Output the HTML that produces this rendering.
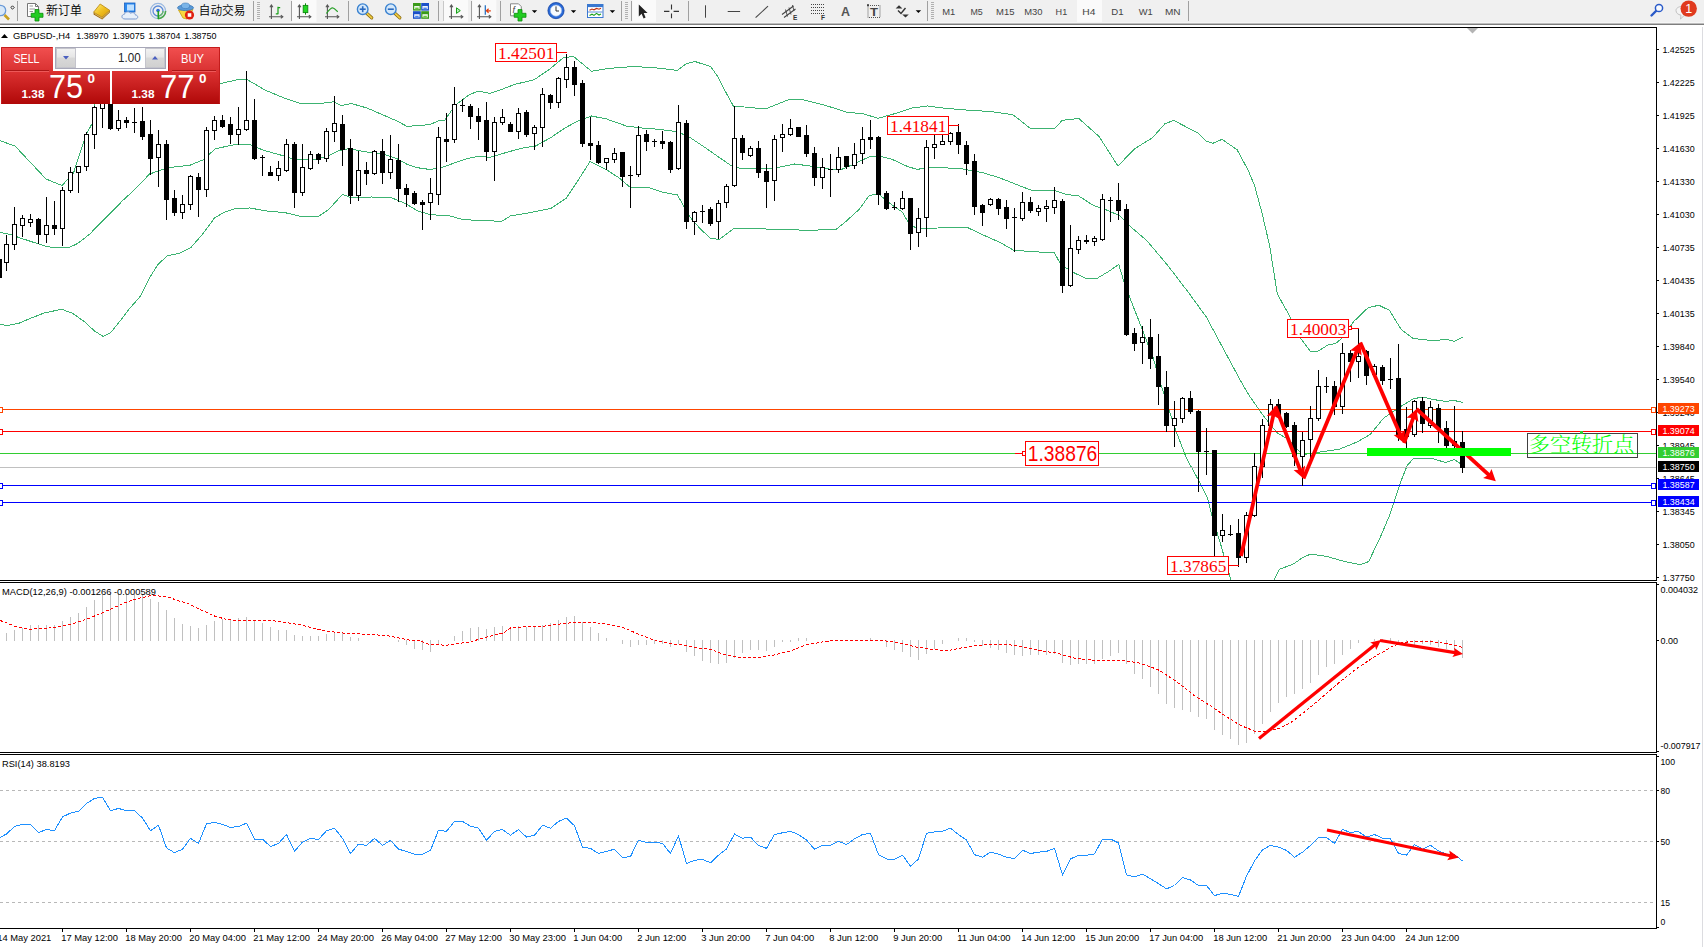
<!DOCTYPE html><html><head><meta charset="utf-8"><title>GBPUSD H4</title>
<style>html,body{margin:0;padding:0;background:#fff;}body{width:1704px;height:947px;overflow:hidden;position:relative;font-family:"Liberation Sans","Noto Sans CJK SC",sans-serif;}
svg{position:absolute;left:0;top:0;}svg text{font-family:"Liberation Sans","Noto Sans CJK SC",sans-serif;}
</style></head><body>
<svg width="1704" height="947" viewBox="0 0 1704 947">
<defs>
<linearGradient id="gs1" x1="0" y1="0" x2="0" y2="1"><stop offset="0" stop-color="#f25050"/><stop offset="1" stop-color="#d83030"/></linearGradient>
<linearGradient id="gs2" x1="0" y1="0" x2="0" y2="1"><stop offset="0" stop-color="#dc3232"/><stop offset="1" stop-color="#b00808"/></linearGradient>
<linearGradient id="gbtn" x1="0" y1="0" x2="0" y2="1"><stop offset="0" stop-color="#f2f2f2"/><stop offset="0.45" stop-color="#e6e6e6"/><stop offset="0.5" stop-color="#d8d8d8"/><stop offset="1" stop-color="#d0d0d0"/></linearGradient>
<clipPath id="cm"><rect x="0" y="28" width="1656" height="552"/></clipPath>
<clipPath id="cmacd"><rect x="0" y="583" width="1656" height="169"/></clipPath>
<clipPath id="crsi"><rect x="0" y="755" width="1656" height="173"/></clipPath>
</defs>
<rect x="0" y="0" width="1704" height="947" fill="#fff"/>
<g clip-path="url(#cm)" shape-rendering="crispEdges">
<polyline points="-2.0,140.0 15.0,146.0 46.0,179.0 62.0,185.5 73.5,173.0 86.0,135.0 94.0,120.0 94.0,100.0 110.0,90.0 140.0,80.0 180.0,84.0 222.0,83.3 240.0,79.0 246.0,79.0 265.0,90.0 284.0,98.0 302.0,104.0 319.0,103.6 334.0,101.8 341.0,105.6 351.5,103.6 367.0,108.0 382.0,114.5 397.0,121.0 407.0,126.4 430.0,124.6 438.0,121.0 445.0,120.0 455.0,105.6 468.0,95.5 478.0,91.0 490.0,93.5 502.7,89.0 515.0,84.3 534.0,79.8 548.0,70.4 563.5,57.7 573.6,56.5 591.4,71.2 609.0,68.4 632.0,66.6 652.0,67.4 677.5,70.4 686.4,63.6 695.0,61.5 710.5,66.6 718.0,76.7 725.7,92.0 733.3,106.0 750.0,107.5 765.3,109.0 789.4,99.3 803.4,99.8 826.0,105.6 846.4,112.0 864.0,114.0 878.0,118.3 892.0,114.5 912.3,108.0 927.5,106.0 942.7,108.0 968.0,110.2 990.0,111.5 1012.8,114.6 1030.5,128.5 1054.6,128.5 1062.2,120.4 1078.7,118.4 1099.0,136.4 1118.0,166.0 1134.5,148.8 1152.2,138.0 1165.0,123.7 1173.7,120.4 1197.8,133.0 1206.7,141.4 1213.0,143.2 1222.0,139.4 1237.0,149.6 1248.0,170.0 1254.4,185.0 1262.0,213.0 1269.7,246.0 1277.3,294.0 1287.4,312.0 1300.0,337.3 1310.2,351.2 1317.8,351.2 1328.0,345.0 1335.5,343.6 1343.2,337.3 1353.3,322.0 1363.4,312.0 1368.7,307.4 1379.0,305.3 1389.4,310.3 1401.3,329.6 1413.0,338.4 1433.8,340.8 1445.6,339.3 1454.5,341.4 1463.0,337.0" fill="none" stroke="#3cb371" stroke-width="1" />
<polyline points="-2.0,232.0 10.0,234.3 20.3,238.0 33.8,242.4 45.6,246.3 52.4,247.4 69.3,247.4 77.7,243.5 89.5,234.3 106.4,217.0 123.3,200.0 133.4,190.8 149.6,174.0 167.3,167.8 190.0,165.2 202.8,160.0 215.5,148.7 233.0,145.0 250.0,144.5 262.8,150.0 280.5,155.0 294.5,159.3 311.0,160.0 326.2,156.8 338.8,150.7 349.0,148.7 364.2,151.7 384.4,154.3 397.0,158.8 407.3,164.4 417.4,167.7 430.0,169.5 442.7,167.2 455.4,162.6 468.0,158.3 478.2,156.5 490.0,157.3 505.2,152.8 520.4,148.5 535.6,146.0 550.8,137.6 566.0,127.4 578.7,120.6 591.4,116.0 606.6,119.0 626.8,126.2 642.0,128.0 657.3,129.2 677.5,131.7 690.2,137.6 705.4,147.7 718.0,156.6 730.8,165.4 741.0,168.7 750.0,168.6 765.3,169.0 776.7,167.7 794.5,164.0 813.5,166.4 828.7,169.0 841.4,169.5 854.0,164.0 869.2,156.8 878.0,155.8 892.0,159.3 907.3,166.4 917.4,169.5 927.5,167.2 942.7,167.7 963.0,169.0 983.3,172.8 1000.0,178.0 1030.5,190.0 1054.6,190.6 1066.0,194.4 1078.7,196.0 1094.0,205.8 1106.6,210.0 1119.2,215.4 1132.0,228.0 1147.0,240.8 1167.4,265.0 1187.7,291.5 1206.3,317.0 1224.0,350.0 1241.8,383.0 1249.2,395.6 1263.0,415.3 1277.0,432.7 1288.7,439.7 1302.6,454.8 1316.5,452.5 1339.2,449.3 1357.0,442.0 1370.2,434.5 1383.5,418.2 1398.3,408.0 1413.0,399.0 1422.0,397.0 1433.8,399.6 1445.6,401.4 1454.5,400.5 1463.0,402.6" fill="none" stroke="#3cb371" stroke-width="1" />
<polyline points="-2.0,324.0 6.8,325.5 18.6,323.4 30.4,318.4 44.0,313.0 61.7,309.3 72.6,313.3 84.5,321.8 94.6,331.0 103.0,336.3 110.6,332.7 118.2,323.4 128.4,310.0 140.2,296.4 148.6,279.5 158.0,264.3 167.2,256.0 180.7,252.8 191.0,247.4 202.7,234.0 214.5,218.0 224.7,212.0 236.5,208.2 250.0,208.0 265.3,210.8 285.6,212.8 300.8,216.4 318.6,216.4 328.7,209.5 342.6,194.3 351.5,198.0 371.8,197.0 392.0,198.0 404.7,203.2 417.4,210.8 430.0,214.6 450.3,216.0 463.0,219.7 490.0,220.7 501.4,221.5 510.3,216.0 528.0,213.0 550.8,208.5 566.0,198.4 578.7,179.4 590.0,161.6 606.6,169.8 619.2,178.0 630.6,187.7 647.0,187.0 662.3,192.0 677.5,195.0 690.2,217.4 700.3,228.8 710.5,238.4 719.3,239.4 733.3,228.8 750.0,228.0 770.4,229.3 811.0,230.3 836.3,229.3 846.4,221.0 859.0,209.5 869.2,195.6 878.0,193.6 892.0,205.0 902.2,212.0 909.8,224.7 917.4,228.5 937.7,228.0 968.0,227.8 983.3,235.0 1000.0,242.5 1014.0,250.4 1054.6,253.0 1061.0,265.0 1073.6,272.5 1086.3,278.8 1096.4,278.8 1109.0,271.2 1118.7,264.4 1124.0,282.0 1130.5,299.5 1140.4,324.6 1153.0,357.5 1161.0,385.0 1174.8,428.0 1186.5,458.3 1198.0,479.2 1207.4,497.8 1212.0,516.3 1221.3,546.5 1230.6,579.0 1235.0,600.0 1268.0,600.0 1274.3,579.0 1279.4,569.3 1293.3,564.0 1302.6,557.7 1310.7,554.0 1327.4,556.6 1345.0,561.6 1360.0,564.6 1368.7,561.6 1380.6,536.5 1389.4,515.8 1401.3,480.3 1407.2,465.5 1413.0,459.0 1430.8,458.0 1445.6,462.6 1454.5,459.6 1463.0,465.5" fill="none" stroke="#3cb371" stroke-width="1" />
<rect x="0" y="409" width="1656" height="1" fill="#ff4500"/>
<rect x="0" y="431" width="1656" height="1" fill="#ff0000"/>
<rect x="0" y="453" width="1656" height="1" fill="#32cd32"/>
<rect x="0" y="467" width="1656" height="1" fill="#c0c0c0"/>
<rect x="0" y="485" width="1656" height="1" fill="#0000ff"/>
<rect x="0" y="502" width="1656" height="1" fill="#0000ff"/>
<rect x="-2.5" y="407.5" width="5" height="5" fill="#fff" stroke="#ff4500"/>
<rect x="1651.5" y="407.5" width="4" height="5" fill="#fff" stroke="#ff4500"/>
<rect x="-2.5" y="429.5" width="5" height="5" fill="#fff" stroke="#ff0000"/>
<rect x="1651.5" y="429.5" width="4" height="5" fill="#fff" stroke="#ff0000"/>
<rect x="-2.5" y="483.5" width="5" height="5" fill="#fff" stroke="#0000ff"/>
<rect x="1651.5" y="483.5" width="4" height="5" fill="#fff" stroke="#0000ff"/>
<rect x="-2.5" y="500.5" width="5" height="5" fill="#fff" stroke="#0000ff"/>
<rect x="1651.5" y="500.5" width="4" height="5" fill="#fff" stroke="#0000ff"/>
<rect x="-3" y="259" width="5" height="19" fill="#000"/>
<rect x="6" y="235" width="1" height="36" fill="#000"/>
<rect x="4" y="244" width="5" height="19" fill="#000"/>
<rect x="5" y="245" width="3" height="17" fill="#fff"/>
<rect x="14" y="207" width="1" height="43" fill="#000"/>
<rect x="12" y="224" width="5" height="21" fill="#000"/>
<rect x="13" y="225" width="3" height="19" fill="#fff"/>
<rect x="22" y="215" width="1" height="22" fill="#000"/>
<rect x="20" y="218" width="5" height="8" fill="#000"/>
<rect x="21" y="219" width="3" height="6" fill="#fff"/>
<rect x="30" y="214" width="1" height="13" fill="#000"/>
<rect x="28" y="219" width="5" height="4" fill="#000"/>
<rect x="29" y="220" width="3" height="2" fill="#fff"/>
<rect x="38" y="218" width="1" height="26" fill="#000"/>
<rect x="36" y="219" width="5" height="16" fill="#000"/>
<rect x="46" y="197" width="1" height="46" fill="#000"/>
<rect x="44" y="225" width="5" height="10" fill="#000"/>
<rect x="45" y="226" width="3" height="8" fill="#fff"/>
<rect x="54" y="201" width="1" height="34" fill="#000"/>
<rect x="52" y="225" width="5" height="4" fill="#000"/>
<rect x="62" y="187" width="1" height="59" fill="#000"/>
<rect x="60" y="190" width="5" height="39" fill="#000"/>
<rect x="61" y="191" width="3" height="37" fill="#fff"/>
<rect x="70" y="167" width="1" height="26" fill="#000"/>
<rect x="68" y="172" width="5" height="19" fill="#000"/>
<rect x="69" y="173" width="3" height="17" fill="#fff"/>
<rect x="78" y="166" width="1" height="27" fill="#000"/>
<rect x="76" y="166" width="5" height="7" fill="#000"/>
<rect x="77" y="167" width="3" height="5" fill="#fff"/>
<rect x="86" y="132" width="1" height="39" fill="#000"/>
<rect x="84" y="134" width="5" height="33" fill="#000"/>
<rect x="85" y="135" width="3" height="31" fill="#fff"/>
<rect x="94" y="106" width="1" height="43" fill="#000"/>
<rect x="92" y="107" width="5" height="28" fill="#000"/>
<rect x="93" y="108" width="3" height="26" fill="#fff"/>
<rect x="102" y="95" width="1" height="33" fill="#000"/>
<rect x="100" y="100" width="5" height="9" fill="#000"/>
<rect x="101" y="101" width="3" height="7" fill="#fff"/>
<rect x="110" y="98" width="1" height="32" fill="#000"/>
<rect x="108" y="100" width="5" height="29" fill="#000"/>
<rect x="118" y="110" width="1" height="21" fill="#000"/>
<rect x="116" y="120" width="5" height="9" fill="#000"/>
<rect x="117" y="121" width="3" height="7" fill="#fff"/>
<rect x="126" y="117" width="1" height="11" fill="#000"/>
<rect x="124" y="120" width="5" height="3" fill="#000"/>
<rect x="134" y="108" width="1" height="25" fill="#000"/>
<rect x="132" y="122" width="5" height="1" fill="#000"/>
<rect x="142" y="107" width="1" height="33" fill="#000"/>
<rect x="140" y="121" width="5" height="16" fill="#000"/>
<rect x="150" y="120" width="1" height="55" fill="#000"/>
<rect x="148" y="134" width="5" height="25" fill="#000"/>
<rect x="158" y="130" width="1" height="57" fill="#000"/>
<rect x="156" y="144" width="5" height="14" fill="#000"/>
<rect x="157" y="145" width="3" height="12" fill="#fff"/>
<rect x="166" y="140" width="1" height="80" fill="#000"/>
<rect x="164" y="144" width="5" height="56" fill="#000"/>
<rect x="174" y="190" width="1" height="26" fill="#000"/>
<rect x="172" y="198" width="5" height="15" fill="#000"/>
<rect x="182" y="195" width="1" height="24" fill="#000"/>
<rect x="180" y="204" width="5" height="9" fill="#000"/>
<rect x="181" y="205" width="3" height="7" fill="#fff"/>
<rect x="190" y="175" width="1" height="35" fill="#000"/>
<rect x="188" y="176" width="5" height="29" fill="#000"/>
<rect x="189" y="177" width="3" height="27" fill="#fff"/>
<rect x="198" y="173" width="1" height="44" fill="#000"/>
<rect x="196" y="177" width="5" height="13" fill="#000"/>
<rect x="206" y="127" width="1" height="70" fill="#000"/>
<rect x="204" y="130" width="5" height="60" fill="#000"/>
<rect x="205" y="131" width="3" height="58" fill="#fff"/>
<rect x="214" y="116" width="1" height="24" fill="#000"/>
<rect x="212" y="120" width="5" height="11" fill="#000"/>
<rect x="213" y="121" width="3" height="9" fill="#fff"/>
<rect x="222" y="115" width="1" height="13" fill="#000"/>
<rect x="220" y="120" width="5" height="7" fill="#000"/>
<rect x="230" y="117" width="1" height="27" fill="#000"/>
<rect x="228" y="124" width="5" height="11" fill="#000"/>
<rect x="238" y="107" width="1" height="38" fill="#000"/>
<rect x="236" y="129" width="5" height="6" fill="#000"/>
<rect x="237" y="130" width="3" height="4" fill="#fff"/>
<rect x="246" y="71" width="1" height="60" fill="#000"/>
<rect x="244" y="120" width="5" height="10" fill="#000"/>
<rect x="245" y="121" width="3" height="8" fill="#fff"/>
<rect x="254" y="99" width="1" height="61" fill="#000"/>
<rect x="252" y="120" width="5" height="39" fill="#000"/>
<rect x="262" y="155" width="1" height="21" fill="#000"/>
<rect x="260" y="157" width="5" height="1" fill="#000"/>
<rect x="270" y="166" width="1" height="10" fill="#000"/>
<rect x="268" y="172" width="5" height="4" fill="#000"/>
<rect x="278" y="161" width="1" height="20" fill="#000"/>
<rect x="276" y="168" width="5" height="8" fill="#000"/>
<rect x="277" y="169" width="3" height="6" fill="#fff"/>
<rect x="286" y="139" width="1" height="33" fill="#000"/>
<rect x="284" y="144" width="5" height="27" fill="#000"/>
<rect x="285" y="145" width="3" height="25" fill="#fff"/>
<rect x="294" y="142" width="1" height="66" fill="#000"/>
<rect x="292" y="144" width="5" height="49" fill="#000"/>
<rect x="302" y="144" width="1" height="52" fill="#000"/>
<rect x="300" y="167" width="5" height="26" fill="#000"/>
<rect x="301" y="168" width="3" height="24" fill="#fff"/>
<rect x="310" y="151" width="1" height="19" fill="#000"/>
<rect x="308" y="154" width="5" height="15" fill="#000"/>
<rect x="309" y="155" width="3" height="13" fill="#fff"/>
<rect x="318" y="153" width="1" height="11" fill="#000"/>
<rect x="316" y="154" width="5" height="6" fill="#000"/>
<rect x="326" y="128" width="1" height="34" fill="#000"/>
<rect x="324" y="131" width="5" height="28" fill="#000"/>
<rect x="325" y="132" width="3" height="26" fill="#fff"/>
<rect x="334" y="96" width="1" height="46" fill="#000"/>
<rect x="332" y="123" width="5" height="9" fill="#000"/>
<rect x="333" y="124" width="3" height="7" fill="#fff"/>
<rect x="342" y="115" width="1" height="51" fill="#000"/>
<rect x="340" y="124" width="5" height="26" fill="#000"/>
<rect x="350" y="139" width="1" height="65" fill="#000"/>
<rect x="348" y="148" width="5" height="48" fill="#000"/>
<rect x="358" y="151" width="1" height="50" fill="#000"/>
<rect x="356" y="170" width="5" height="26" fill="#000"/>
<rect x="357" y="171" width="3" height="24" fill="#fff"/>
<rect x="366" y="162" width="1" height="23" fill="#000"/>
<rect x="364" y="170" width="5" height="4" fill="#000"/>
<rect x="374" y="150" width="1" height="25" fill="#000"/>
<rect x="372" y="151" width="5" height="23" fill="#000"/>
<rect x="373" y="152" width="3" height="21" fill="#fff"/>
<rect x="382" y="139" width="1" height="45" fill="#000"/>
<rect x="380" y="151" width="5" height="22" fill="#000"/>
<rect x="390" y="135" width="1" height="44" fill="#000"/>
<rect x="388" y="159" width="5" height="14" fill="#000"/>
<rect x="389" y="160" width="3" height="12" fill="#fff"/>
<rect x="398" y="144" width="1" height="58" fill="#000"/>
<rect x="396" y="160" width="5" height="29" fill="#000"/>
<rect x="406" y="184" width="1" height="23" fill="#000"/>
<rect x="404" y="188" width="5" height="7" fill="#000"/>
<rect x="414" y="191" width="1" height="14" fill="#000"/>
<rect x="412" y="193" width="5" height="11" fill="#000"/>
<rect x="422" y="200" width="1" height="30" fill="#000"/>
<rect x="420" y="202" width="5" height="3" fill="#000"/>
<rect x="430" y="178" width="1" height="42" fill="#000"/>
<rect x="428" y="193" width="5" height="10" fill="#000"/>
<rect x="429" y="194" width="3" height="8" fill="#fff"/>
<rect x="438" y="127" width="1" height="78" fill="#000"/>
<rect x="436" y="137" width="5" height="58" fill="#000"/>
<rect x="437" y="138" width="3" height="56" fill="#fff"/>
<rect x="446" y="113" width="1" height="49" fill="#000"/>
<rect x="444" y="139" width="5" height="3" fill="#000"/>
<rect x="454" y="87" width="1" height="56" fill="#000"/>
<rect x="452" y="104" width="5" height="36" fill="#000"/>
<rect x="453" y="105" width="3" height="34" fill="#fff"/>
<rect x="462" y="99" width="1" height="13" fill="#000"/>
<rect x="460" y="105" width="5" height="1" fill="#000"/>
<rect x="470" y="104" width="1" height="25" fill="#000"/>
<rect x="468" y="106" width="5" height="11" fill="#000"/>
<rect x="478" y="108" width="1" height="32" fill="#000"/>
<rect x="476" y="116" width="5" height="6" fill="#000"/>
<rect x="486" y="102" width="1" height="59" fill="#000"/>
<rect x="484" y="120" width="5" height="32" fill="#000"/>
<rect x="494" y="117" width="1" height="64" fill="#000"/>
<rect x="492" y="122" width="5" height="30" fill="#000"/>
<rect x="493" y="123" width="3" height="28" fill="#fff"/>
<rect x="502" y="109" width="1" height="16" fill="#000"/>
<rect x="500" y="117" width="5" height="6" fill="#000"/>
<rect x="501" y="118" width="3" height="4" fill="#fff"/>
<rect x="510" y="122" width="1" height="10" fill="#000"/>
<rect x="508" y="124" width="5" height="8" fill="#000"/>
<rect x="518" y="108" width="1" height="31" fill="#000"/>
<rect x="516" y="113" width="5" height="19" fill="#000"/>
<rect x="517" y="114" width="3" height="17" fill="#fff"/>
<rect x="526" y="110" width="1" height="27" fill="#000"/>
<rect x="524" y="112" width="5" height="23" fill="#000"/>
<rect x="534" y="125" width="1" height="25" fill="#000"/>
<rect x="532" y="127" width="5" height="7" fill="#000"/>
<rect x="533" y="128" width="3" height="5" fill="#fff"/>
<rect x="542" y="88" width="1" height="59" fill="#000"/>
<rect x="540" y="94" width="5" height="34" fill="#000"/>
<rect x="541" y="95" width="3" height="32" fill="#fff"/>
<rect x="550" y="94" width="1" height="15" fill="#000"/>
<rect x="548" y="95" width="5" height="8" fill="#000"/>
<rect x="558" y="77" width="1" height="31" fill="#000"/>
<rect x="556" y="78" width="5" height="25" fill="#000"/>
<rect x="557" y="79" width="3" height="23" fill="#fff"/>
<rect x="566" y="54" width="1" height="34" fill="#000"/>
<rect x="564" y="67" width="5" height="13" fill="#000"/>
<rect x="565" y="68" width="3" height="11" fill="#fff"/>
<rect x="574" y="61" width="1" height="35" fill="#000"/>
<rect x="572" y="67" width="5" height="18" fill="#000"/>
<rect x="582" y="80" width="1" height="67" fill="#000"/>
<rect x="580" y="83" width="5" height="61" fill="#000"/>
<rect x="590" y="117" width="1" height="43" fill="#000"/>
<rect x="588" y="143" width="5" height="3" fill="#000"/>
<rect x="598" y="141" width="1" height="23" fill="#000"/>
<rect x="596" y="145" width="5" height="18" fill="#000"/>
<rect x="606" y="158" width="1" height="12" fill="#000"/>
<rect x="604" y="158" width="5" height="5" fill="#000"/>
<rect x="605" y="159" width="3" height="3" fill="#fff"/>
<rect x="614" y="148" width="1" height="15" fill="#000"/>
<rect x="612" y="153" width="5" height="7" fill="#000"/>
<rect x="613" y="154" width="3" height="5" fill="#fff"/>
<rect x="622" y="152" width="1" height="35" fill="#000"/>
<rect x="620" y="152" width="5" height="25" fill="#000"/>
<rect x="630" y="166" width="1" height="42" fill="#000"/>
<rect x="628" y="175" width="5" height="1" fill="#000"/>
<rect x="638" y="126" width="1" height="51" fill="#000"/>
<rect x="636" y="135" width="5" height="40" fill="#000"/>
<rect x="637" y="136" width="3" height="38" fill="#fff"/>
<rect x="646" y="130" width="1" height="21" fill="#000"/>
<rect x="644" y="134" width="5" height="8" fill="#000"/>
<rect x="654" y="139" width="1" height="8" fill="#000"/>
<rect x="652" y="141" width="5" height="1" fill="#000"/>
<rect x="662" y="131" width="1" height="18" fill="#000"/>
<rect x="660" y="141" width="5" height="3" fill="#000"/>
<rect x="670" y="141" width="1" height="32" fill="#000"/>
<rect x="668" y="142" width="5" height="28" fill="#000"/>
<rect x="678" y="105" width="1" height="65" fill="#000"/>
<rect x="676" y="122" width="5" height="47" fill="#000"/>
<rect x="677" y="123" width="3" height="45" fill="#fff"/>
<rect x="686" y="120" width="1" height="109" fill="#000"/>
<rect x="684" y="123" width="5" height="99" fill="#000"/>
<rect x="694" y="211" width="1" height="24" fill="#000"/>
<rect x="692" y="212" width="5" height="10" fill="#000"/>
<rect x="693" y="213" width="3" height="8" fill="#fff"/>
<rect x="702" y="205" width="1" height="18" fill="#000"/>
<rect x="700" y="211" width="5" height="1" fill="#000"/>
<rect x="710" y="207" width="1" height="19" fill="#000"/>
<rect x="708" y="209" width="5" height="15" fill="#000"/>
<rect x="718" y="200" width="1" height="39" fill="#000"/>
<rect x="716" y="203" width="5" height="19" fill="#000"/>
<rect x="717" y="204" width="3" height="17" fill="#fff"/>
<rect x="726" y="184" width="1" height="24" fill="#000"/>
<rect x="724" y="186" width="5" height="17" fill="#000"/>
<rect x="725" y="187" width="3" height="15" fill="#fff"/>
<rect x="734" y="106" width="1" height="81" fill="#000"/>
<rect x="732" y="138" width="5" height="48" fill="#000"/>
<rect x="733" y="139" width="3" height="46" fill="#fff"/>
<rect x="742" y="135" width="1" height="25" fill="#000"/>
<rect x="740" y="138" width="5" height="15" fill="#000"/>
<rect x="750" y="146" width="1" height="11" fill="#000"/>
<rect x="748" y="148" width="5" height="8" fill="#000"/>
<rect x="749" y="149" width="3" height="6" fill="#fff"/>
<rect x="758" y="141" width="1" height="37" fill="#000"/>
<rect x="756" y="148" width="5" height="25" fill="#000"/>
<rect x="766" y="164" width="1" height="44" fill="#000"/>
<rect x="764" y="171" width="5" height="11" fill="#000"/>
<rect x="774" y="135" width="1" height="66" fill="#000"/>
<rect x="772" y="139" width="5" height="42" fill="#000"/>
<rect x="773" y="140" width="3" height="40" fill="#fff"/>
<rect x="782" y="124" width="1" height="28" fill="#000"/>
<rect x="780" y="134" width="5" height="4" fill="#000"/>
<rect x="781" y="135" width="3" height="2" fill="#fff"/>
<rect x="790" y="119" width="1" height="17" fill="#000"/>
<rect x="788" y="128" width="5" height="7" fill="#000"/>
<rect x="789" y="129" width="3" height="5" fill="#fff"/>
<rect x="798" y="127" width="1" height="10" fill="#000"/>
<rect x="796" y="127" width="5" height="10" fill="#000"/>
<rect x="806" y="125" width="1" height="32" fill="#000"/>
<rect x="804" y="135" width="5" height="19" fill="#000"/>
<rect x="814" y="147" width="1" height="39" fill="#000"/>
<rect x="812" y="153" width="5" height="25" fill="#000"/>
<rect x="822" y="158" width="1" height="31" fill="#000"/>
<rect x="820" y="167" width="5" height="11" fill="#000"/>
<rect x="821" y="168" width="3" height="9" fill="#fff"/>
<rect x="830" y="154" width="1" height="43" fill="#000"/>
<rect x="828" y="169" width="5" height="1" fill="#000"/>
<rect x="838" y="147" width="1" height="26" fill="#000"/>
<rect x="836" y="157" width="5" height="13" fill="#000"/>
<rect x="837" y="158" width="3" height="11" fill="#fff"/>
<rect x="846" y="156" width="1" height="13" fill="#000"/>
<rect x="844" y="156" width="5" height="11" fill="#000"/>
<rect x="854" y="143" width="1" height="26" fill="#000"/>
<rect x="852" y="154" width="5" height="12" fill="#000"/>
<rect x="853" y="155" width="3" height="10" fill="#fff"/>
<rect x="862" y="127" width="1" height="37" fill="#000"/>
<rect x="860" y="139" width="5" height="15" fill="#000"/>
<rect x="861" y="140" width="3" height="13" fill="#fff"/>
<rect x="870" y="120" width="1" height="29" fill="#000"/>
<rect x="868" y="137" width="5" height="3" fill="#000"/>
<rect x="878" y="136" width="1" height="69" fill="#000"/>
<rect x="876" y="137" width="5" height="58" fill="#000"/>
<rect x="886" y="191" width="1" height="19" fill="#000"/>
<rect x="884" y="193" width="5" height="16" fill="#000"/>
<rect x="894" y="202" width="1" height="8" fill="#000"/>
<rect x="892" y="207" width="5" height="1" fill="#000"/>
<rect x="902" y="191" width="1" height="19" fill="#000"/>
<rect x="900" y="198" width="5" height="11" fill="#000"/>
<rect x="901" y="199" width="3" height="9" fill="#fff"/>
<rect x="910" y="198" width="1" height="52" fill="#000"/>
<rect x="908" y="198" width="5" height="36" fill="#000"/>
<rect x="918" y="208" width="1" height="39" fill="#000"/>
<rect x="916" y="218" width="5" height="15" fill="#000"/>
<rect x="917" y="219" width="3" height="13" fill="#fff"/>
<rect x="926" y="140" width="1" height="97" fill="#000"/>
<rect x="924" y="147" width="5" height="71" fill="#000"/>
<rect x="925" y="148" width="3" height="69" fill="#fff"/>
<rect x="934" y="135" width="1" height="24" fill="#000"/>
<rect x="932" y="144" width="5" height="4" fill="#000"/>
<rect x="933" y="145" width="3" height="2" fill="#fff"/>
<rect x="942" y="134" width="1" height="11" fill="#000"/>
<rect x="940" y="141" width="5" height="4" fill="#000"/>
<rect x="941" y="142" width="3" height="2" fill="#fff"/>
<rect x="950" y="132" width="1" height="13" fill="#000"/>
<rect x="948" y="133" width="5" height="9" fill="#000"/>
<rect x="949" y="134" width="3" height="7" fill="#fff"/>
<rect x="958" y="124" width="1" height="30" fill="#000"/>
<rect x="956" y="132" width="5" height="13" fill="#000"/>
<rect x="966" y="141" width="1" height="34" fill="#000"/>
<rect x="964" y="145" width="5" height="19" fill="#000"/>
<rect x="974" y="154" width="1" height="61" fill="#000"/>
<rect x="972" y="161" width="5" height="46" fill="#000"/>
<rect x="982" y="204" width="1" height="22" fill="#000"/>
<rect x="980" y="205" width="5" height="8" fill="#000"/>
<rect x="990" y="198" width="1" height="8" fill="#000"/>
<rect x="988" y="199" width="5" height="6" fill="#000"/>
<rect x="989" y="200" width="3" height="4" fill="#fff"/>
<rect x="998" y="198" width="1" height="17" fill="#000"/>
<rect x="996" y="199" width="5" height="10" fill="#000"/>
<rect x="1006" y="200" width="1" height="29" fill="#000"/>
<rect x="1004" y="207" width="5" height="12" fill="#000"/>
<rect x="1014" y="208" width="1" height="44" fill="#000"/>
<rect x="1012" y="217" width="5" height="1" fill="#000"/>
<rect x="1022" y="192" width="1" height="29" fill="#000"/>
<rect x="1020" y="202" width="5" height="17" fill="#000"/>
<rect x="1021" y="203" width="3" height="15" fill="#fff"/>
<rect x="1030" y="197" width="1" height="16" fill="#000"/>
<rect x="1028" y="202" width="5" height="9" fill="#000"/>
<rect x="1038" y="205" width="1" height="11" fill="#000"/>
<rect x="1036" y="208" width="5" height="4" fill="#000"/>
<rect x="1037" y="209" width="3" height="2" fill="#fff"/>
<rect x="1046" y="200" width="1" height="22" fill="#000"/>
<rect x="1044" y="206" width="5" height="3" fill="#000"/>
<rect x="1045" y="207" width="3" height="1" fill="#fff"/>
<rect x="1054" y="187" width="1" height="27" fill="#000"/>
<rect x="1052" y="200" width="5" height="8" fill="#000"/>
<rect x="1053" y="201" width="3" height="6" fill="#fff"/>
<rect x="1062" y="199" width="1" height="94" fill="#000"/>
<rect x="1060" y="201" width="5" height="85" fill="#000"/>
<rect x="1070" y="225" width="1" height="62" fill="#000"/>
<rect x="1068" y="248" width="5" height="38" fill="#000"/>
<rect x="1069" y="249" width="3" height="36" fill="#fff"/>
<rect x="1078" y="236" width="1" height="18" fill="#000"/>
<rect x="1076" y="240" width="5" height="10" fill="#000"/>
<rect x="1077" y="241" width="3" height="8" fill="#fff"/>
<rect x="1086" y="235" width="1" height="9" fill="#000"/>
<rect x="1084" y="240" width="5" height="2" fill="#000"/>
<rect x="1094" y="236" width="1" height="10" fill="#000"/>
<rect x="1092" y="238" width="5" height="4" fill="#000"/>
<rect x="1093" y="239" width="3" height="2" fill="#fff"/>
<rect x="1102" y="194" width="1" height="47" fill="#000"/>
<rect x="1100" y="199" width="5" height="41" fill="#000"/>
<rect x="1101" y="200" width="3" height="39" fill="#fff"/>
<rect x="1110" y="197" width="1" height="25" fill="#000"/>
<rect x="1108" y="200" width="5" height="1" fill="#000"/>
<rect x="1118" y="183" width="1" height="37" fill="#000"/>
<rect x="1116" y="200" width="5" height="11" fill="#000"/>
<rect x="1126" y="204" width="1" height="132" fill="#000"/>
<rect x="1124" y="209" width="5" height="126" fill="#000"/>
<rect x="1134" y="328" width="1" height="23" fill="#000"/>
<rect x="1132" y="333" width="5" height="11" fill="#000"/>
<rect x="1142" y="326" width="1" height="38" fill="#000"/>
<rect x="1140" y="337" width="5" height="6" fill="#000"/>
<rect x="1141" y="338" width="3" height="4" fill="#fff"/>
<rect x="1150" y="319" width="1" height="50" fill="#000"/>
<rect x="1148" y="337" width="5" height="22" fill="#000"/>
<rect x="1158" y="334" width="1" height="71" fill="#000"/>
<rect x="1156" y="356" width="5" height="31" fill="#000"/>
<rect x="1166" y="371" width="1" height="61" fill="#000"/>
<rect x="1164" y="387" width="5" height="39" fill="#000"/>
<rect x="1174" y="401" width="1" height="46" fill="#000"/>
<rect x="1172" y="418" width="5" height="8" fill="#000"/>
<rect x="1173" y="419" width="3" height="6" fill="#fff"/>
<rect x="1182" y="397" width="1" height="26" fill="#000"/>
<rect x="1180" y="398" width="5" height="21" fill="#000"/>
<rect x="1181" y="399" width="3" height="19" fill="#fff"/>
<rect x="1190" y="391" width="1" height="23" fill="#000"/>
<rect x="1188" y="398" width="5" height="14" fill="#000"/>
<rect x="1198" y="410" width="1" height="82" fill="#000"/>
<rect x="1196" y="411" width="5" height="41" fill="#000"/>
<rect x="1206" y="428" width="1" height="47" fill="#000"/>
<rect x="1204" y="451" width="5" height="1" fill="#000"/>
<rect x="1214" y="450" width="1" height="107" fill="#000"/>
<rect x="1212" y="450" width="5" height="86" fill="#000"/>
<rect x="1222" y="514" width="1" height="28" fill="#000"/>
<rect x="1220" y="530" width="5" height="6" fill="#000"/>
<rect x="1221" y="531" width="3" height="4" fill="#fff"/>
<rect x="1230" y="525" width="1" height="11" fill="#000"/>
<rect x="1228" y="534" width="5" height="1" fill="#000"/>
<rect x="1238" y="519" width="1" height="48" fill="#000"/>
<rect x="1236" y="533" width="5" height="25" fill="#000"/>
<rect x="1246" y="512" width="1" height="51" fill="#000"/>
<rect x="1244" y="515" width="5" height="43" fill="#000"/>
<rect x="1245" y="516" width="3" height="41" fill="#fff"/>
<rect x="1254" y="453" width="1" height="64" fill="#000"/>
<rect x="1252" y="466" width="5" height="50" fill="#000"/>
<rect x="1253" y="467" width="3" height="48" fill="#fff"/>
<rect x="1262" y="419" width="1" height="59" fill="#000"/>
<rect x="1260" y="425" width="5" height="42" fill="#000"/>
<rect x="1261" y="426" width="3" height="40" fill="#fff"/>
<rect x="1270" y="399" width="1" height="28" fill="#000"/>
<rect x="1268" y="404" width="5" height="22" fill="#000"/>
<rect x="1269" y="405" width="3" height="20" fill="#fff"/>
<rect x="1278" y="399" width="1" height="17" fill="#000"/>
<rect x="1276" y="404" width="5" height="11" fill="#000"/>
<rect x="1286" y="412" width="1" height="16" fill="#000"/>
<rect x="1284" y="413" width="5" height="14" fill="#000"/>
<rect x="1294" y="422" width="1" height="44" fill="#000"/>
<rect x="1292" y="425" width="5" height="32" fill="#000"/>
<rect x="1302" y="432" width="1" height="54" fill="#000"/>
<rect x="1300" y="440" width="5" height="17" fill="#000"/>
<rect x="1301" y="441" width="3" height="15" fill="#fff"/>
<rect x="1310" y="406" width="1" height="56" fill="#000"/>
<rect x="1308" y="418" width="5" height="22" fill="#000"/>
<rect x="1309" y="419" width="3" height="20" fill="#fff"/>
<rect x="1318" y="370" width="1" height="51" fill="#000"/>
<rect x="1316" y="386" width="5" height="33" fill="#000"/>
<rect x="1317" y="387" width="3" height="31" fill="#fff"/>
<rect x="1326" y="377" width="1" height="16" fill="#000"/>
<rect x="1324" y="386" width="5" height="1" fill="#000"/>
<rect x="1334" y="381" width="1" height="34" fill="#000"/>
<rect x="1332" y="386" width="5" height="21" fill="#000"/>
<rect x="1342" y="343" width="1" height="71" fill="#000"/>
<rect x="1340" y="353" width="5" height="54" fill="#000"/>
<rect x="1341" y="354" width="3" height="52" fill="#fff"/>
<rect x="1350" y="350" width="1" height="32" fill="#000"/>
<rect x="1348" y="353" width="5" height="9" fill="#000"/>
<rect x="1358" y="328" width="1" height="50" fill="#000"/>
<rect x="1356" y="356" width="5" height="6" fill="#000"/>
<rect x="1357" y="357" width="3" height="4" fill="#fff"/>
<rect x="1366" y="350" width="1" height="35" fill="#000"/>
<rect x="1364" y="351" width="5" height="25" fill="#000"/>
<rect x="1374" y="364" width="1" height="12" fill="#000"/>
<rect x="1372" y="366" width="5" height="9" fill="#000"/>
<rect x="1373" y="367" width="3" height="7" fill="#fff"/>
<rect x="1382" y="365" width="1" height="20" fill="#000"/>
<rect x="1380" y="367" width="5" height="14" fill="#000"/>
<rect x="1390" y="358" width="1" height="31" fill="#000"/>
<rect x="1388" y="379" width="5" height="1" fill="#000"/>
<rect x="1398" y="344" width="1" height="97" fill="#000"/>
<rect x="1396" y="378" width="5" height="57" fill="#000"/>
<rect x="1406" y="407" width="1" height="42" fill="#000"/>
<rect x="1404" y="429" width="5" height="8" fill="#000"/>
<rect x="1414" y="400" width="1" height="37" fill="#000"/>
<rect x="1412" y="401" width="5" height="34" fill="#000"/>
<rect x="1413" y="402" width="3" height="32" fill="#fff"/>
<rect x="1422" y="397" width="1" height="36" fill="#000"/>
<rect x="1420" y="401" width="5" height="23" fill="#000"/>
<rect x="1430" y="401" width="1" height="27" fill="#000"/>
<rect x="1428" y="407" width="5" height="19" fill="#000"/>
<rect x="1429" y="408" width="3" height="17" fill="#fff"/>
<rect x="1438" y="404" width="1" height="39" fill="#000"/>
<rect x="1436" y="408" width="5" height="21" fill="#000"/>
<rect x="1446" y="421" width="1" height="28" fill="#000"/>
<rect x="1444" y="428" width="5" height="18" fill="#000"/>
<rect x="1454" y="406" width="1" height="43" fill="#000"/>
<rect x="1452" y="441" width="5" height="5" fill="#000"/>
<rect x="1462" y="431" width="1" height="42" fill="#000"/>
<rect x="1460" y="442" width="5" height="26" fill="#000"/>
</g>
<g clip-path="url(#cm)">
<line x1="1241.0" y1="556.0" x2="1274.3" y2="411.1" stroke="#ff0000" stroke-width="3.8" stroke-linecap="butt"/><polygon points="1275.4,406.2 1278.9,418.8 1273.3,415.5 1266.8,416.0" fill="#ff0000"/>
<line x1="1275.4" y1="406.2" x2="1301.7" y2="473.9" stroke="#ff0000" stroke-width="3.8" stroke-linecap="butt"/><polygon points="1303.5,478.6 1293.6,470.1 1300.1,469.7 1305.1,465.6" fill="#ff0000"/>
<line x1="1303.5" y1="478.6" x2="1358.4" y2="347.0" stroke="#ff0000" stroke-width="3.8" stroke-linecap="butt"/><polygon points="1360.3,342.4 1361.6,355.4 1356.6,351.2 1350.2,350.6" fill="#ff0000"/>
<line x1="1360.3" y1="342.4" x2="1402.0" y2="438.4" stroke="#ff0000" stroke-width="3.8" stroke-linecap="butt"/><polygon points="1404.0,443.0 1393.7,434.9 1400.2,434.3 1405.1,430.0" fill="#ff0000"/>
<line x1="1404.0" y1="443.0" x2="1414.8" y2="413.7" stroke="#ff0000" stroke-width="3.8" stroke-linecap="butt"/><polygon points="1416.5,409.0 1418.4,421.9 1413.2,417.9 1406.7,417.7" fill="#ff0000"/>
<line x1="1416.5" y1="409.0" x2="1492.1" y2="477.8" stroke="#ff0000" stroke-width="3.8" stroke-linecap="butt"/><polygon points="1495.8,481.2 1483.1,478.0 1488.8,474.8 1491.5,468.9" fill="#ff0000"/>
<rect x="1367" y="448" width="144" height="8" fill="#00ff00" shape-rendering="crispEdges"/>
</g>
<g>
<rect x="495.5" y="43.5" width="61" height="18" fill="#fff" stroke="#ff0000" stroke-width="1" shape-rendering="crispEdges"/><rect x="556" y="52" width="11" height="1" fill="#ff0000" shape-rendering="crispEdges"/><text x="498" y="59.1" font-size="17.6" fill="#ff0000" textLength="56.3" lengthAdjust="spacingAndGlyphs" style='font-family:"Liberation Serif", serif' >1.42501</text>
<rect x="887.5" y="116.5" width="61" height="18" fill="#fff" stroke="#ff0000" stroke-width="1" shape-rendering="crispEdges"/><rect x="948" y="125" width="11" height="1" fill="#ff0000" shape-rendering="crispEdges"/><text x="890" y="132.1" font-size="17.6" fill="#ff0000" textLength="56.3" lengthAdjust="spacingAndGlyphs" style='font-family:"Liberation Serif", serif' >1.41841</text>
<rect x="1287.5" y="319.5" width="61" height="18" fill="#fff" stroke="#ff0000" stroke-width="1" shape-rendering="crispEdges"/><rect x="1348" y="328" width="11" height="1" fill="#ff0000" shape-rendering="crispEdges"/><text x="1290" y="335.1" font-size="17.6" fill="#ff0000" textLength="56.3" lengthAdjust="spacingAndGlyphs" style='font-family:"Liberation Serif", serif' >1.40003</text>
<rect x="1348.5" y="326.5" width="3" height="3" fill="#fff" stroke="#ff0000" shape-rendering="crispEdges"/>
<rect x="1167.5" y="556.5" width="61" height="18" fill="#fff" stroke="#ff0000" stroke-width="1" shape-rendering="crispEdges"/><rect x="1228" y="565" width="11" height="1" fill="#ff0000" shape-rendering="crispEdges"/><text x="1170" y="572.1" font-size="17.6" fill="#ff0000" textLength="56.3" lengthAdjust="spacingAndGlyphs" style='font-family:"Liberation Serif", serif' >1.37865</text>
<rect x="1015" y="453" width="8" height="1" fill="#ff0000" shape-rendering="crispEdges"/>
<rect x="1022.5" y="451.5" width="3" height="4" fill="#fff" stroke="#ff0000" shape-rendering="crispEdges"/>
<rect x="1025.5" y="441.5" width="73" height="24" fill="#fff" stroke="#ff0000" shape-rendering="crispEdges"/>
<text x="1027.8" y="461" font-size="22" fill="#ff0000" textLength="69.5" lengthAdjust="spacingAndGlyphs" >1.38876</text>
</g>
<rect x="1527.5" y="433.5" width="110" height="24" fill="none" stroke="#404040" shape-rendering="crispEdges"/>
<rect x="1528" y="453" width="109" height="1" fill="#32cd32" shape-rendering="crispEdges"/>
<text x="1528.8" y="451.5" font-size="20" fill="#00ff00" textLength="105.5" lengthAdjust="spacingAndGlyphs" style='font-family:"Liberation Serif","Noto Serif CJK SC",serif' font-weight="300" >多空转折点</text>
<rect x="1580" y="431" width="3" height="3" fill="#32cd32" shape-rendering="crispEdges"/>
<polygon points="1467,28 1478,28 1472.5,33.5" fill="#b4b4b4"/>
<polygon points="1,38 8,38 4.5,34" fill="#000"/>
<text x="13" y="38.8" font-size="9.7" fill="#000" textLength="57.2" lengthAdjust="spacingAndGlyphs" >GBPUSD-,H4</text>
<text x="76.3" y="38.8" font-size="9.7" fill="#000" textLength="32.3" lengthAdjust="spacingAndGlyphs" >1.38970</text>
<text x="112.4" y="38.8" font-size="9.7" fill="#000" textLength="32.3" lengthAdjust="spacingAndGlyphs" >1.39075</text>
<text x="148.2" y="38.8" font-size="9.7" fill="#000" textLength="32.3" lengthAdjust="spacingAndGlyphs" >1.38704</text>
<text x="184.2" y="38.8" font-size="9.7" fill="#000" textLength="32.3" lengthAdjust="spacingAndGlyphs" >1.38750</text>
<g>
<rect x="1" y="47" width="52" height="25" fill="url(#gs1)"/>
<rect x="168" y="47" width="52" height="25" fill="url(#gs1)"/>
<rect x="1" y="71" width="109" height="33" fill="url(#gs2)"/>
<rect x="112" y="71" width="108" height="33" fill="url(#gs2)"/>
<rect x="5" y="70" width="44" height="1" fill="#a01010" opacity="0.8"/>
<rect x="5" y="71" width="44" height="1" fill="#ff8080" opacity="0.5"/>
<rect x="172" y="70" width="44" height="1" fill="#a01010" opacity="0.8"/>
<rect x="172" y="71" width="44" height="1" fill="#ff8080" opacity="0.5"/>
<path d="M1.5,103.5V47.5H52.5" fill="none" stroke="#c41c1c" stroke-width="1"/>
<path d="M168.5,71V47.5H219.5V103.5" fill="none" stroke="#c41c1c" stroke-width="1"/>
<rect x="53" y="47" width="115" height="24" fill="#fff"/>
<rect x="110" y="71" width="2" height="33" fill="#fff"/>
<rect x="55.5" y="47.5" width="110" height="21" fill="#fff" stroke="#a8a8b8"/>
<rect x="56.5" y="48.5" width="19" height="19" fill="url(#gbtn)" stroke="#c4c4cc"/>
<rect x="145.5" y="48.5" width="19" height="19" fill="url(#gbtn)" stroke="#c4c4cc"/>
<polygon points="63,56 69,56 66,59.5" fill="#4a5fc0"/>
<polygon points="152,59.5 158,59.5 155,56" fill="#4a5fc0"/>
<text x="118" y="62.3" font-size="12" fill="#222" textLength="22.6" lengthAdjust="spacingAndGlyphs" >1.00</text>
<text x="26.5" y="62.8" font-size="12" fill="#fff" text-anchor="middle" textLength="26" lengthAdjust="spacingAndGlyphs" >SELL</text>
<text x="192.5" y="62.8" font-size="12" fill="#fff" text-anchor="middle" textLength="23" lengthAdjust="spacingAndGlyphs" >BUY</text>
<text x="21.5" y="98.2" font-size="11.5" fill="#fff" textLength="23" lengthAdjust="spacingAndGlyphs" font-weight="bold" >1.38</text>
<text x="49" y="98.2" font-size="32.5" fill="#fff" textLength="34" lengthAdjust="spacingAndGlyphs" >75</text>
<text x="87.5" y="82.8" font-size="12" fill="#fff" textLength="7.5" lengthAdjust="spacingAndGlyphs" font-weight="bold" >0</text>
<text x="131.5" y="98.2" font-size="11.5" fill="#fff" textLength="23" lengthAdjust="spacingAndGlyphs" font-weight="bold" >1.38</text>
<text x="160" y="98.2" font-size="32.5" fill="#fff" textLength="34.5" lengthAdjust="spacingAndGlyphs" >77</text>
<text x="199" y="82.8" font-size="12" fill="#fff" textLength="7.5" lengthAdjust="spacingAndGlyphs" font-weight="bold" >0</text>
</g>
<g clip-path="url(#cmacd)" shape-rendering="crispEdges">
<rect x="6" y="633" width="1" height="8" fill="#c0c0c0"/>
<rect x="14" y="630" width="1" height="11" fill="#c0c0c0"/>
<rect x="22" y="628" width="1" height="13" fill="#c0c0c0"/>
<rect x="30" y="625" width="1" height="16" fill="#c0c0c0"/>
<rect x="38" y="625" width="1" height="16" fill="#c0c0c0"/>
<rect x="46" y="625" width="1" height="16" fill="#c0c0c0"/>
<rect x="54" y="625" width="1" height="16" fill="#c0c0c0"/>
<rect x="62" y="621" width="1" height="20" fill="#c0c0c0"/>
<rect x="70" y="617" width="1" height="24" fill="#c0c0c0"/>
<rect x="78" y="613" width="1" height="28" fill="#c0c0c0"/>
<rect x="86" y="607" width="1" height="34" fill="#c0c0c0"/>
<rect x="94" y="600" width="1" height="41" fill="#c0c0c0"/>
<rect x="102" y="595" width="1" height="46" fill="#c0c0c0"/>
<rect x="110" y="594" width="1" height="47" fill="#c0c0c0"/>
<rect x="118" y="593" width="1" height="48" fill="#c0c0c0"/>
<rect x="126" y="593" width="1" height="48" fill="#c0c0c0"/>
<rect x="134" y="594" width="1" height="47" fill="#c0c0c0"/>
<rect x="142" y="595" width="1" height="46" fill="#c0c0c0"/>
<rect x="150" y="599" width="1" height="42" fill="#c0c0c0"/>
<rect x="158" y="602" width="1" height="39" fill="#c0c0c0"/>
<rect x="166" y="610" width="1" height="31" fill="#c0c0c0"/>
<rect x="174" y="618" width="1" height="23" fill="#c0c0c0"/>
<rect x="182" y="624" width="1" height="17" fill="#c0c0c0"/>
<rect x="190" y="626" width="1" height="15" fill="#c0c0c0"/>
<rect x="198" y="628" width="1" height="13" fill="#c0c0c0"/>
<rect x="206" y="625" width="1" height="16" fill="#c0c0c0"/>
<rect x="214" y="621" width="1" height="20" fill="#c0c0c0"/>
<rect x="222" y="619" width="1" height="22" fill="#c0c0c0"/>
<rect x="230" y="619" width="1" height="22" fill="#c0c0c0"/>
<rect x="238" y="618" width="1" height="23" fill="#c0c0c0"/>
<rect x="246" y="617" width="1" height="24" fill="#c0c0c0"/>
<rect x="254" y="620" width="1" height="21" fill="#c0c0c0"/>
<rect x="262" y="623" width="1" height="18" fill="#c0c0c0"/>
<rect x="270" y="627" width="1" height="14" fill="#c0c0c0"/>
<rect x="278" y="630" width="1" height="11" fill="#c0c0c0"/>
<rect x="286" y="630" width="1" height="11" fill="#c0c0c0"/>
<rect x="294" y="635" width="1" height="6" fill="#c0c0c0"/>
<rect x="302" y="636" width="1" height="5" fill="#c0c0c0"/>
<rect x="310" y="636" width="1" height="5" fill="#c0c0c0"/>
<rect x="318" y="636" width="1" height="5" fill="#c0c0c0"/>
<rect x="326" y="634" width="1" height="7" fill="#c0c0c0"/>
<rect x="334" y="632" width="1" height="9" fill="#c0c0c0"/>
<rect x="342" y="632" width="1" height="9" fill="#c0c0c0"/>
<rect x="350" y="637" width="1" height="4" fill="#c0c0c0"/>
<rect x="358" y="638" width="1" height="3" fill="#c0c0c0"/>
<rect x="398" y="640" width="1" height="2" fill="#c0c0c0"/>
<rect x="406" y="640" width="1" height="5" fill="#c0c0c0"/>
<rect x="414" y="640" width="1" height="9" fill="#c0c0c0"/>
<rect x="422" y="640" width="1" height="10" fill="#c0c0c0"/>
<rect x="430" y="640" width="1" height="12" fill="#c0c0c0"/>
<rect x="438" y="640" width="1" height="4" fill="#c0c0c0"/>
<rect x="454" y="636" width="1" height="5" fill="#c0c0c0"/>
<rect x="462" y="631" width="1" height="10" fill="#c0c0c0"/>
<rect x="470" y="628" width="1" height="13" fill="#c0c0c0"/>
<rect x="478" y="627" width="1" height="14" fill="#c0c0c0"/>
<rect x="486" y="629" width="1" height="12" fill="#c0c0c0"/>
<rect x="494" y="627" width="1" height="14" fill="#c0c0c0"/>
<rect x="502" y="626" width="1" height="15" fill="#c0c0c0"/>
<rect x="510" y="627" width="1" height="14" fill="#c0c0c0"/>
<rect x="518" y="626" width="1" height="15" fill="#c0c0c0"/>
<rect x="526" y="627" width="1" height="14" fill="#c0c0c0"/>
<rect x="534" y="627" width="1" height="14" fill="#c0c0c0"/>
<rect x="542" y="625" width="1" height="16" fill="#c0c0c0"/>
<rect x="550" y="623" width="1" height="18" fill="#c0c0c0"/>
<rect x="558" y="620" width="1" height="21" fill="#c0c0c0"/>
<rect x="566" y="617" width="1" height="24" fill="#c0c0c0"/>
<rect x="574" y="616" width="1" height="25" fill="#c0c0c0"/>
<rect x="582" y="622" width="1" height="19" fill="#c0c0c0"/>
<rect x="590" y="627" width="1" height="14" fill="#c0c0c0"/>
<rect x="598" y="633" width="1" height="8" fill="#c0c0c0"/>
<rect x="606" y="638" width="1" height="3" fill="#c0c0c0"/>
<rect x="622" y="640" width="1" height="4" fill="#c0c0c0"/>
<rect x="630" y="640" width="1" height="7" fill="#c0c0c0"/>
<rect x="638" y="640" width="1" height="5" fill="#c0c0c0"/>
<rect x="646" y="640" width="1" height="5" fill="#c0c0c0"/>
<rect x="654" y="640" width="1" height="4" fill="#c0c0c0"/>
<rect x="662" y="640" width="1" height="4" fill="#c0c0c0"/>
<rect x="670" y="640" width="1" height="7" fill="#c0c0c0"/>
<rect x="678" y="640" width="1" height="4" fill="#c0c0c0"/>
<rect x="686" y="640" width="1" height="12" fill="#c0c0c0"/>
<rect x="694" y="640" width="1" height="16" fill="#c0c0c0"/>
<rect x="702" y="640" width="1" height="21" fill="#c0c0c0"/>
<rect x="710" y="640" width="1" height="23" fill="#c0c0c0"/>
<rect x="718" y="640" width="1" height="24" fill="#c0c0c0"/>
<rect x="726" y="640" width="1" height="23" fill="#c0c0c0"/>
<rect x="734" y="640" width="1" height="18" fill="#c0c0c0"/>
<rect x="742" y="640" width="1" height="13" fill="#c0c0c0"/>
<rect x="750" y="640" width="1" height="10" fill="#c0c0c0"/>
<rect x="758" y="640" width="1" height="10" fill="#c0c0c0"/>
<rect x="766" y="640" width="1" height="11" fill="#c0c0c0"/>
<rect x="774" y="640" width="1" height="7" fill="#c0c0c0"/>
<rect x="782" y="640" width="1" height="2" fill="#c0c0c0"/>
<rect x="790" y="640" width="1" height="2" fill="#c0c0c0"/>
<rect x="798" y="638" width="1" height="3" fill="#c0c0c0"/>
<rect x="806" y="638" width="1" height="3" fill="#c0c0c0"/>
<rect x="870" y="638" width="1" height="3" fill="#c0c0c0"/>
<rect x="886" y="640" width="1" height="7" fill="#c0c0c0"/>
<rect x="894" y="640" width="1" height="10" fill="#c0c0c0"/>
<rect x="902" y="640" width="1" height="12" fill="#c0c0c0"/>
<rect x="910" y="640" width="1" height="17" fill="#c0c0c0"/>
<rect x="918" y="640" width="1" height="20" fill="#c0c0c0"/>
<rect x="926" y="640" width="1" height="14" fill="#c0c0c0"/>
<rect x="934" y="640" width="1" height="9" fill="#c0c0c0"/>
<rect x="942" y="640" width="1" height="4" fill="#c0c0c0"/>
<rect x="958" y="638" width="1" height="3" fill="#c0c0c0"/>
<rect x="966" y="638" width="1" height="3" fill="#c0c0c0"/>
<rect x="974" y="640" width="1" height="2" fill="#c0c0c0"/>
<rect x="982" y="640" width="1" height="6" fill="#c0c0c0"/>
<rect x="990" y="640" width="1" height="8" fill="#c0c0c0"/>
<rect x="998" y="640" width="1" height="10" fill="#c0c0c0"/>
<rect x="1006" y="640" width="1" height="13" fill="#c0c0c0"/>
<rect x="1014" y="640" width="1" height="15" fill="#c0c0c0"/>
<rect x="1022" y="640" width="1" height="16" fill="#c0c0c0"/>
<rect x="1030" y="640" width="1" height="15" fill="#c0c0c0"/>
<rect x="1038" y="640" width="1" height="15" fill="#c0c0c0"/>
<rect x="1046" y="640" width="1" height="15" fill="#c0c0c0"/>
<rect x="1054" y="640" width="1" height="14" fill="#c0c0c0"/>
<rect x="1062" y="640" width="1" height="23" fill="#c0c0c0"/>
<rect x="1070" y="640" width="1" height="25" fill="#c0c0c0"/>
<rect x="1078" y="640" width="1" height="24" fill="#c0c0c0"/>
<rect x="1086" y="640" width="1" height="24" fill="#c0c0c0"/>
<rect x="1094" y="640" width="1" height="24" fill="#c0c0c0"/>
<rect x="1102" y="640" width="1" height="19" fill="#c0c0c0"/>
<rect x="1110" y="640" width="1" height="16" fill="#c0c0c0"/>
<rect x="1118" y="640" width="1" height="13" fill="#c0c0c0"/>
<rect x="1126" y="640" width="1" height="24" fill="#c0c0c0"/>
<rect x="1134" y="640" width="1" height="34" fill="#c0c0c0"/>
<rect x="1142" y="640" width="1" height="39" fill="#c0c0c0"/>
<rect x="1150" y="640" width="1" height="47" fill="#c0c0c0"/>
<rect x="1158" y="640" width="1" height="54" fill="#c0c0c0"/>
<rect x="1166" y="640" width="1" height="64" fill="#c0c0c0"/>
<rect x="1174" y="640" width="1" height="68" fill="#c0c0c0"/>
<rect x="1182" y="640" width="1" height="70" fill="#c0c0c0"/>
<rect x="1190" y="640" width="1" height="72" fill="#c0c0c0"/>
<rect x="1198" y="640" width="1" height="77" fill="#c0c0c0"/>
<rect x="1206" y="640" width="1" height="79" fill="#c0c0c0"/>
<rect x="1214" y="640" width="1" height="90" fill="#c0c0c0"/>
<rect x="1222" y="640" width="1" height="95" fill="#c0c0c0"/>
<rect x="1230" y="640" width="1" height="99" fill="#c0c0c0"/>
<rect x="1238" y="640" width="1" height="105" fill="#c0c0c0"/>
<rect x="1246" y="640" width="1" height="103" fill="#c0c0c0"/>
<rect x="1254" y="640" width="1" height="94" fill="#c0c0c0"/>
<rect x="1262" y="640" width="1" height="84" fill="#c0c0c0"/>
<rect x="1270" y="640" width="1" height="72" fill="#c0c0c0"/>
<rect x="1278" y="640" width="1" height="63" fill="#c0c0c0"/>
<rect x="1286" y="640" width="1" height="57" fill="#c0c0c0"/>
<rect x="1294" y="640" width="1" height="54" fill="#c0c0c0"/>
<rect x="1302" y="640" width="1" height="49" fill="#c0c0c0"/>
<rect x="1310" y="640" width="1" height="43" fill="#c0c0c0"/>
<rect x="1318" y="640" width="1" height="35" fill="#c0c0c0"/>
<rect x="1326" y="640" width="1" height="27" fill="#c0c0c0"/>
<rect x="1334" y="640" width="1" height="24" fill="#c0c0c0"/>
<rect x="1342" y="640" width="1" height="15" fill="#c0c0c0"/>
<rect x="1350" y="640" width="1" height="9" fill="#c0c0c0"/>
<rect x="1358" y="640" width="1" height="3" fill="#c0c0c0"/>
<rect x="1374" y="639" width="1" height="2" fill="#c0c0c0"/>
<rect x="1382" y="639" width="1" height="2" fill="#c0c0c0"/>
<rect x="1390" y="638" width="1" height="3" fill="#c0c0c0"/>
<rect x="1398" y="640" width="1" height="4" fill="#c0c0c0"/>
<rect x="1406" y="640" width="1" height="5" fill="#c0c0c0"/>
<rect x="1414" y="640" width="1" height="5" fill="#c0c0c0"/>
<rect x="1422" y="640" width="1" height="4" fill="#c0c0c0"/>
<rect x="1430" y="640" width="1" height="5" fill="#c0c0c0"/>
<rect x="1438" y="640" width="1" height="7" fill="#c0c0c0"/>
<rect x="1446" y="640" width="1" height="9" fill="#c0c0c0"/>
<rect x="1454" y="640" width="1" height="11" fill="#c0c0c0"/>
<rect x="1462" y="640" width="1" height="18" fill="#c0c0c0"/>
<polyline points="0.0,620.4 7.6,623.4 17.7,627.4 30.3,629.2 45.4,628.4 60.6,626.7 75.7,622.9 88.3,618.6 101.0,613.3 113.5,607.8 126.2,602.2 138.8,598.2 151.4,595.6 166.5,596.4 176.6,600.2 189.3,604.0 201.9,610.3 214.5,616.0 227.0,619.6 242.2,621.0 257.4,620.9 270.0,620.4 285.0,622.4 300.3,624.9 315.4,628.7 330.6,631.7 348.2,633.5 365.9,634.2 386.0,635.5 398.7,638.0 408.8,640.0 420.0,640.6 430.0,644.8 447.8,645.1 470.5,641.8 485.6,637.3 503.3,633.0 510.8,627.9 526.0,626.7 543.6,626.2 558.8,624.2 574.0,622.4 594.0,622.4 609.3,624.7 621.9,627.2 637.0,633.5 654.7,640.6 672.3,643.8 682.4,644.8 695.0,647.6 710.2,649.4 726.6,655.2 738.0,657.0 758.0,657.5 773.3,655.2 791.0,650.7 806.0,644.8 823.7,641.8 838.9,640.0 850.0,640.6 883.0,640.6 898.0,642.6 915.7,646.9 928.3,648.9 941.0,650.1 951.0,650.1 963.6,647.4 981.3,645.1 996.5,644.3 1009.0,644.8 1021.7,646.4 1036.8,650.1 1057.0,653.2 1074.7,658.2 1092.3,660.2 1122.6,660.2 1140.3,663.3 1158.0,669.6 1175.6,680.9 1193.3,694.8 1211.0,706.2 1228.6,718.0 1240.0,725.1 1255.2,731.4 1265.3,731.4 1278.0,728.9 1290.6,722.6 1305.7,711.2 1323.4,696.0 1341.0,680.9 1358.7,667.0 1376.4,655.7 1391.5,646.9 1401.6,643.0 1411.7,641.3 1426.8,641.3 1442.0,643.0 1454.6,645.1 1463.0,647.6" fill="none" stroke="#ff0000" stroke-width="1" stroke-dasharray="3 2"/>
</g>
<g clip-path="url(#cmacd)">
<line x1="1259.0" y1="738.5" x2="1377.1" y2="643.1" stroke="#ff0000" stroke-width="3.2" stroke-linecap="butt"/><polygon points="1381.0,640.0 1376.2,650.0 1374.8,645.0 1370.2,642.5" fill="#ff0000"/>
<line x1="1380.0" y1="640.5" x2="1458.1" y2="653.2" stroke="#ff0000" stroke-width="3.2" stroke-linecap="butt"/><polygon points="1463.0,654.0 1452.4,657.1 1455.1,652.7 1453.9,647.7" fill="#ff0000"/>
</g>
<text x="2" y="595.2" font-size="9.7" fill="#000" textLength="154" lengthAdjust="spacingAndGlyphs" >MACD(12,26,9) -0.001266 -0.000589</text>
<g clip-path="url(#crsi)" shape-rendering="crispEdges">
<line x1="0" y1="790.5" x2="1656" y2="790.5" stroke="#b8b8b8" stroke-dasharray="3 3"/>
<line x1="0" y1="841.5" x2="1656" y2="841.5" stroke="#b8b8b8" stroke-dasharray="3 3"/>
<line x1="0" y1="902.5" x2="1656" y2="902.5" stroke="#b8b8b8" stroke-dasharray="3 3"/>
<polyline points="-1.0,838.0 6.5,834.0 14.5,826.5 22.5,824.4 30.5,824.4 38.5,832.5 46.5,829.5 54.5,830.7 62.5,816.9 70.5,813.1 78.5,811.3 86.5,803.5 94.5,798.4 102.5,797.2 110.5,810.6 118.5,808.5 126.5,810.6 134.5,810.6 142.5,818.1 150.5,830.7 158.5,825.2 166.5,847.9 174.5,852.7 182.5,849.2 190.5,838.3 198.5,843.4 206.5,823.9 214.5,822.4 222.5,824.4 230.5,827.5 238.5,826.5 246.5,823.2 254.5,839.1 262.5,839.1 270.5,846.6 278.5,843.4 286.5,834.5 294.5,851.4 302.5,842.1 310.5,838.3 318.5,839.6 326.5,830.7 334.5,828.2 342.5,838.3 350.5,853.5 358.5,844.1 366.5,845.4 374.5,838.3 382.5,845.4 390.5,840.3 398.5,849.2 406.5,851.4 414.5,854.2 422.5,854.2 430.5,850.4 438.5,830.2 446.5,831.3 454.5,821.4 462.5,821.4 470.5,826.2 478.5,828.2 486.5,840.3 494.5,831.3 502.5,829.5 510.5,835.3 518.5,829.5 526.5,837.1 534.5,835.3 542.5,825.2 550.5,828.2 558.5,821.4 566.5,818.1 574.5,825.7 582.5,847.1 590.5,848.4 598.5,853.5 606.5,851.4 614.5,849.2 622.5,857.7 630.5,856.5 638.5,840.1 646.5,842.6 654.5,842.1 662.5,843.4 670.5,853.5 678.5,835.8 686.5,863.5 694.5,860.3 702.5,859.3 710.5,862.8 718.5,855.2 726.5,848.9 734.5,834.0 742.5,838.3 750.5,837.1 758.5,845.4 766.5,848.4 774.5,834.5 782.5,832.8 790.5,831.3 798.5,834.5 806.5,840.1 814.5,849.2 822.5,845.4 830.5,845.4 838.5,841.3 846.5,844.6 854.5,838.8 862.5,834.5 870.5,833.3 878.5,854.7 886.5,859.0 894.5,859.3 902.5,855.2 910.5,866.1 918.5,859.0 926.5,833.3 934.5,832.0 942.5,831.3 950.5,828.2 958.5,834.5 966.5,840.1 974.5,854.7 982.5,857.2 990.5,852.2 998.5,854.2 1006.5,857.2 1014.5,858.5 1022.5,850.2 1030.5,853.5 1038.5,852.2 1046.5,851.4 1054.5,848.4 1062.5,874.9 1070.5,859.0 1078.5,855.2 1086.5,855.2 1094.5,854.0 1102.5,839.1 1110.5,839.1 1118.5,842.9 1126.5,874.9 1134.5,876.7 1142.5,874.1 1150.5,878.7 1158.5,883.7 1166.5,888.8 1174.5,885.5 1182.5,877.4 1190.5,880.0 1198.5,885.5 1206.5,885.5 1214.5,895.6 1222.5,893.3 1230.5,894.3 1238.5,896.4 1246.5,876.2 1254.5,861.0 1262.5,849.7 1270.5,845.4 1278.5,847.1 1286.5,850.4 1294.5,857.2 1302.5,852.2 1310.5,845.4 1318.5,837.6 1326.5,837.6 1334.5,843.4 1342.5,829.5 1350.5,832.5 1358.5,831.5 1366.5,837.1 1374.5,834.5 1382.5,838.3 1390.5,838.8 1398.5,853.5 1406.5,855.2 1414.5,844.6 1422.5,849.2 1430.5,845.4 1438.5,850.9 1446.5,854.2 1454.5,854.7 1462.5,861.0" fill="none" stroke="#1e90ff" stroke-width="1" />
</g>
<g clip-path="url(#crsi)">
<line x1="1327.0" y1="830.0" x2="1454.1" y2="856.5" stroke="#ff0000" stroke-width="3.2" stroke-linecap="butt"/><polygon points="1459.0,857.5 1447.2,860.2 1450.2,855.7 1449.3,850.4" fill="#ff0000"/>
</g>
<text x="2" y="766.8" font-size="9.7" fill="#000" textLength="68" lengthAdjust="spacingAndGlyphs" >RSI(14) 38.8193</text>
<g shape-rendering="crispEdges" fill="#000">
<rect x="0" y="27" width="1657" height="1"/>
<rect x="1656" y="27" width="1" height="902"/>
<rect x="0" y="580" width="1657" height="1"/>
<rect x="0" y="582" width="1657" height="1"/>
<rect x="0" y="752" width="1657" height="1"/>
<rect x="0" y="754" width="1657" height="1"/>
<rect x="0" y="928" width="1657" height="1"/>
<rect x="1656" y="581" width="1" height="1" fill="#fff"/>
<rect x="1656" y="753" width="1" height="1" fill="#fff"/>
<rect x="1657" y="49" width="2" height="1"/>
<rect x="1657" y="82" width="2" height="1"/>
<rect x="1657" y="115" width="2" height="1"/>
<rect x="1657" y="148" width="2" height="1"/>
<rect x="1657" y="181" width="2" height="1"/>
<rect x="1657" y="214" width="2" height="1"/>
<rect x="1657" y="247" width="2" height="1"/>
<rect x="1657" y="280" width="2" height="1"/>
<rect x="1657" y="313" width="2" height="1"/>
<rect x="1657" y="346" width="2" height="1"/>
<rect x="1657" y="379" width="2" height="1"/>
<rect x="1657" y="412" width="2" height="1"/>
<rect x="1657" y="445" width="2" height="1"/>
<rect x="1657" y="478" width="2" height="1"/>
<rect x="1657" y="511" width="2" height="1"/>
<rect x="1657" y="544" width="2" height="1"/>
<rect x="1657" y="577" width="2" height="1"/>
<rect x="1657" y="584" width="2" height="1"/>
<rect x="1657" y="640" width="2" height="1"/>
<rect x="1657" y="751" width="2" height="1"/>
<rect x="1657" y="756" width="2" height="1"/>
<rect x="1657" y="790" width="2" height="1"/>
<rect x="1657" y="841" width="2" height="1"/>
<rect x="1657" y="927" width="2" height="1"/>
<rect x="-2" y="929" width="1" height="3"/>
<rect x="62" y="929" width="1" height="3"/>
<rect x="126" y="929" width="1" height="3"/>
<rect x="190" y="929" width="1" height="3"/>
<rect x="254" y="929" width="1" height="3"/>
<rect x="318" y="929" width="1" height="3"/>
<rect x="382" y="929" width="1" height="3"/>
<rect x="446" y="929" width="1" height="3"/>
<rect x="510" y="929" width="1" height="3"/>
<rect x="574" y="929" width="1" height="3"/>
<rect x="638" y="929" width="1" height="3"/>
<rect x="702" y="929" width="1" height="3"/>
<rect x="766" y="929" width="1" height="3"/>
<rect x="830" y="929" width="1" height="3"/>
<rect x="894" y="929" width="1" height="3"/>
<rect x="958" y="929" width="1" height="3"/>
<rect x="1022" y="929" width="1" height="3"/>
<rect x="1086" y="929" width="1" height="3"/>
<rect x="1150" y="929" width="1" height="3"/>
<rect x="1214" y="929" width="1" height="3"/>
<rect x="1278" y="929" width="1" height="3"/>
<rect x="1342" y="929" width="1" height="3"/>
<rect x="1406" y="929" width="1" height="3"/>
</g>
<g>
<text x="1662.4" y="52.7" font-size="9.7" fill="#000" textLength="32.2" lengthAdjust="spacingAndGlyphs" >1.42525</text>
<text x="1662.4" y="85.7" font-size="9.7" fill="#000" textLength="32.2" lengthAdjust="spacingAndGlyphs" >1.42225</text>
<text x="1662.4" y="118.7" font-size="9.7" fill="#000" textLength="32.2" lengthAdjust="spacingAndGlyphs" >1.41925</text>
<text x="1662.4" y="151.7" font-size="9.7" fill="#000" textLength="32.2" lengthAdjust="spacingAndGlyphs" >1.41630</text>
<text x="1662.4" y="184.7" font-size="9.7" fill="#000" textLength="32.2" lengthAdjust="spacingAndGlyphs" >1.41330</text>
<text x="1662.4" y="217.7" font-size="9.7" fill="#000" textLength="32.2" lengthAdjust="spacingAndGlyphs" >1.41030</text>
<text x="1662.4" y="250.7" font-size="9.7" fill="#000" textLength="32.2" lengthAdjust="spacingAndGlyphs" >1.40735</text>
<text x="1662.4" y="283.7" font-size="9.7" fill="#000" textLength="32.2" lengthAdjust="spacingAndGlyphs" >1.40435</text>
<text x="1662.4" y="316.7" font-size="9.7" fill="#000" textLength="32.2" lengthAdjust="spacingAndGlyphs" >1.40135</text>
<text x="1662.4" y="349.7" font-size="9.7" fill="#000" textLength="32.2" lengthAdjust="spacingAndGlyphs" >1.39840</text>
<text x="1662.4" y="382.7" font-size="9.7" fill="#000" textLength="32.2" lengthAdjust="spacingAndGlyphs" >1.39540</text>
<text x="1662.4" y="415.7" font-size="9.7" fill="#000" textLength="32.2" lengthAdjust="spacingAndGlyphs" >1.39240</text>
<text x="1662.4" y="448.7" font-size="9.7" fill="#000" textLength="32.2" lengthAdjust="spacingAndGlyphs" >1.38945</text>
<text x="1662.4" y="481.7" font-size="9.7" fill="#000" textLength="32.2" lengthAdjust="spacingAndGlyphs" >1.38645</text>
<text x="1662.4" y="514.7" font-size="9.7" fill="#000" textLength="32.2" lengthAdjust="spacingAndGlyphs" >1.38345</text>
<text x="1662.4" y="547.7" font-size="9.7" fill="#000" textLength="32.2" lengthAdjust="spacingAndGlyphs" >1.38050</text>
<text x="1662.4" y="580.7" font-size="9.7" fill="#000" textLength="32.2" lengthAdjust="spacingAndGlyphs" >1.37750</text>
<rect x="1658" y="403" width="41" height="11" fill="#ff4500" shape-rendering="crispEdges"/>
<text x="1662.4" y="411.7" font-size="9.7" fill="#fff" textLength="32.2" lengthAdjust="spacingAndGlyphs" >1.39273</text>
<rect x="1658" y="425" width="41" height="11" fill="#ff0000" shape-rendering="crispEdges"/>
<text x="1662.4" y="433.7" font-size="9.7" fill="#fff" textLength="32.2" lengthAdjust="spacingAndGlyphs" >1.39074</text>
<rect x="1658" y="447" width="41" height="11" fill="#32cd32" shape-rendering="crispEdges"/>
<text x="1662.4" y="455.7" font-size="9.7" fill="#fff" textLength="32.2" lengthAdjust="spacingAndGlyphs" >1.38876</text>
<rect x="1658" y="461" width="41" height="11" fill="#000000" shape-rendering="crispEdges"/>
<text x="1662.4" y="469.7" font-size="9.7" fill="#fff" textLength="32.2" lengthAdjust="spacingAndGlyphs" >1.38750</text>
<rect x="1658" y="479" width="41" height="11" fill="#0000ff" shape-rendering="crispEdges"/>
<text x="1662.4" y="487.7" font-size="9.7" fill="#fff" textLength="32.2" lengthAdjust="spacingAndGlyphs" >1.38587</text>
<rect x="1658" y="496" width="41" height="11" fill="#0000ff" shape-rendering="crispEdges"/>
<text x="1662.4" y="504.7" font-size="9.7" fill="#fff" textLength="32.2" lengthAdjust="spacingAndGlyphs" >1.38434</text>
<text x="1660.5" y="592.7" font-size="9.7" fill="#000" textLength="37.5" lengthAdjust="spacingAndGlyphs" >0.004032</text>
<text x="1660.5" y="643.8" font-size="9.7" fill="#000" textLength="17.5" lengthAdjust="spacingAndGlyphs" >0.00</text>
<text x="1660.5" y="748.9" font-size="9.7" fill="#000" textLength="40" lengthAdjust="spacingAndGlyphs" >-0.007917</text>
<text x="1660.5" y="765" font-size="9.7" fill="#000" textLength="14.5" lengthAdjust="spacingAndGlyphs" >100</text>
<text x="1660.5" y="793.8" font-size="9.7" fill="#000" textLength="9.5" lengthAdjust="spacingAndGlyphs" >80</text>
<text x="1660.5" y="844.8" font-size="9.7" fill="#000" textLength="9.5" lengthAdjust="spacingAndGlyphs" >50</text>
<text x="1660.5" y="905.8" font-size="9.7" fill="#000" textLength="9.5" lengthAdjust="spacingAndGlyphs" >15</text>
<text x="1660.5" y="924.8" font-size="9.7" fill="#000" textLength="4.8" lengthAdjust="spacingAndGlyphs" >0</text>
<text x="-2.8" y="941" font-size="9.7" fill="#000" textLength="54.1" lengthAdjust="spacingAndGlyphs" >14 May 2021</text>
<text x="61.2" y="941" font-size="9.7" fill="#000" textLength="56.7" lengthAdjust="spacingAndGlyphs" >17 May 12:00</text>
<text x="125.2" y="941" font-size="9.7" fill="#000" textLength="56.7" lengthAdjust="spacingAndGlyphs" >18 May 20:00</text>
<text x="189.2" y="941" font-size="9.7" fill="#000" textLength="56.7" lengthAdjust="spacingAndGlyphs" >20 May 04:00</text>
<text x="253.2" y="941" font-size="9.7" fill="#000" textLength="56.7" lengthAdjust="spacingAndGlyphs" >21 May 12:00</text>
<text x="317.2" y="941" font-size="9.7" fill="#000" textLength="56.7" lengthAdjust="spacingAndGlyphs" >24 May 20:00</text>
<text x="381.2" y="941" font-size="9.7" fill="#000" textLength="56.7" lengthAdjust="spacingAndGlyphs" >26 May 04:00</text>
<text x="445.2" y="941" font-size="9.7" fill="#000" textLength="56.7" lengthAdjust="spacingAndGlyphs" >27 May 12:00</text>
<text x="509.2" y="941" font-size="9.7" fill="#000" textLength="56.7" lengthAdjust="spacingAndGlyphs" >30 May 23:00</text>
<text x="573.2" y="941" font-size="9.7" fill="#000" textLength="48.9" lengthAdjust="spacingAndGlyphs" >1 Jun 04:00</text>
<text x="637.2" y="941" font-size="9.7" fill="#000" textLength="48.9" lengthAdjust="spacingAndGlyphs" >2 Jun 12:00</text>
<text x="701.2" y="941" font-size="9.7" fill="#000" textLength="48.9" lengthAdjust="spacingAndGlyphs" >3 Jun 20:00</text>
<text x="765.2" y="941" font-size="9.7" fill="#000" textLength="48.9" lengthAdjust="spacingAndGlyphs" >7 Jun 04:00</text>
<text x="829.2" y="941" font-size="9.7" fill="#000" textLength="48.9" lengthAdjust="spacingAndGlyphs" >8 Jun 12:00</text>
<text x="893.2" y="941" font-size="9.7" fill="#000" textLength="48.9" lengthAdjust="spacingAndGlyphs" >9 Jun 20:00</text>
<text x="957.2" y="941" font-size="9.7" fill="#000" textLength="53.4" lengthAdjust="spacingAndGlyphs" >11 Jun 04:00</text>
<text x="1021.2" y="941" font-size="9.7" fill="#000" textLength="54.1" lengthAdjust="spacingAndGlyphs" >14 Jun 12:00</text>
<text x="1085.2" y="941" font-size="9.7" fill="#000" textLength="54.1" lengthAdjust="spacingAndGlyphs" >15 Jun 20:00</text>
<text x="1149.2" y="941" font-size="9.7" fill="#000" textLength="54.1" lengthAdjust="spacingAndGlyphs" >17 Jun 04:00</text>
<text x="1213.2" y="941" font-size="9.7" fill="#000" textLength="54.1" lengthAdjust="spacingAndGlyphs" >18 Jun 12:00</text>
<text x="1277.2" y="941" font-size="9.7" fill="#000" textLength="54.1" lengthAdjust="spacingAndGlyphs" >21 Jun 20:00</text>
<text x="1341.2" y="941" font-size="9.7" fill="#000" textLength="54.1" lengthAdjust="spacingAndGlyphs" >23 Jun 04:00</text>
<text x="1405.2" y="941" font-size="9.7" fill="#000" textLength="54.1" lengthAdjust="spacingAndGlyphs" >24 Jun 12:00</text>
</g>
<rect x="1702" y="25" width="1" height="922" fill="#dcdce0"/>
<g>
<rect x="0" y="0" width="1704" height="23" fill="#f0f0f0"/>
<rect x="0" y="22" width="1704" height="1" fill="#f6f6f6"/>
<rect x="0" y="23" width="1704" height="1" fill="#bdbdbd"/>
<rect x="0" y="24" width="1704" height="1" fill="#7e7e7e"/>
<rect x="0" y="25" width="1704" height="2" fill="#fff"/>
<circle cx="0.5" cy="10.5" r="5.2" fill="#d8e8f8" stroke="#6a9ad8" stroke-width="1.3"/>
<line x1="4.5" y1="15" x2="9" y2="19.5" stroke="#c8a020" stroke-width="2.6"/>
<polygon points="12.5,5.8 14.2,7.5 12.5,9.2 10.8,7.5" fill="none" stroke="#000" stroke-width="0.8"/>
<rect x="17" y="1" width="1" height="20" fill="#a0a0a0" shape-rendering="crispEdges"/>
<path d="M27.5,3.5H35.5L38.5,6.5V16.5H27.5Z" fill="#fff" stroke="#777" stroke-width="1"/>
<path d="M35.5,3.5V6.5H38.5" fill="none" stroke="#777" stroke-width="1"/>
<path d="M29.5,6H33M29.5,9H35M29.5,11.5H33" stroke="#999" stroke-width="1"/>
<path d="M35,9.5H39V13.3H43V17.3H39V21H35V17.3H31.2V13.3H35Z" fill="#22cc22" stroke="#0a8a0a" stroke-width="0.8"/>
<text x="46" y="14.8" font-size="12" font-weight="350" fill="#000" textLength="36" lengthAdjust="spacingAndGlyphs">新订单</text>
<defs><linearGradient id="gold" x1="0" y1="0" x2="1" y2="1"><stop offset="0" stop-color="#fff080"/><stop offset="0.5" stop-color="#f0c020"/><stop offset="1" stop-color="#d89808"/></linearGradient></defs>
<path d="M93.6,12.2L102,17.2L109.8,10.4V12.6L102.2,19.6L93.6,14.4Z" fill="#9a6404"/>
<path d="M100.2,4L109.8,10.4L102,17.2L93.6,12.2Z" fill="url(#gold)" stroke="#b88408" stroke-width="0.8"/>
<path d="M94.6,13.6L102.1,18.2L109,11.8" fill="none" stroke="#f0d890" stroke-width="0.7"/>
<rect x="124.5" y="3" width="10.5" height="9" fill="#2a8af0" stroke="#1a60c0" stroke-width="0.8"/>
<rect x="127" y="4.5" width="7" height="6" fill="#bfe0ff"/>
<path d="M125,19C121,19 121,14.5 124.5,14.2C125,11.5 129.5,11 130.5,13.3C132.5,11.8 135.5,13 135.3,15C138.5,15 138.5,19 135.5,19Z" fill="#e8f0fa" stroke="#7a9ad0" stroke-width="1"/>
<circle cx="158" cy="11" r="7.6" fill="none" stroke="#9ab8e0" stroke-width="1.2"/>
<circle cx="158" cy="11" r="5" fill="none" stroke="#5a8ad8" stroke-width="1.3"/>
<path d="M158,18.6A7.6,7.6 0 0 0 165.6,11" fill="none" stroke="#4aa84a" stroke-width="1.6"/>
<path d="M158,16A5,5 0 0 0 163,11" fill="none" stroke="#6ab86a" stroke-width="1.3"/>
<circle cx="158" cy="10.5" r="1.8" fill="#2a6ad8"/>
<line x1="158.3" y1="11" x2="158.3" y2="19" stroke="#22a022" stroke-width="1.6"/>
<path d="M178.5,10L193,9.5L187,19L183,18Z" fill="#f8d840" stroke="#c8a010" stroke-width="0.8"/>
<ellipse cx="185.5" cy="7.8" rx="8" ry="2.8" fill="#5a9ad8" stroke="#3a78b8" stroke-width="0.8"/>
<ellipse cx="185.5" cy="5.8" rx="4.2" ry="2.8" fill="#7ab4e8" stroke="#3a78b8" stroke-width="0.6"/>
<circle cx="189.5" cy="15" r="4.6" fill="#e02010"/>
<rect x="187.7" y="13.2" width="3.6" height="3.6" fill="#fff"/>
<text x="198.8" y="14.8" font-size="12" font-weight="350" fill="#000" textLength="46.5" lengthAdjust="spacingAndGlyphs">自动交易</text>
<rect x="253" y="1" width="1" height="20" fill="#a0a0a0" shape-rendering="crispEdges"/>
<rect x="257" y="2" width="3" height="1" fill="#b0b0b0" shape-rendering="crispEdges"/>
<rect x="257" y="4" width="3" height="1" fill="#b0b0b0" shape-rendering="crispEdges"/>
<rect x="257" y="6" width="3" height="1" fill="#b0b0b0" shape-rendering="crispEdges"/>
<rect x="257" y="8" width="3" height="1" fill="#b0b0b0" shape-rendering="crispEdges"/>
<rect x="257" y="10" width="3" height="1" fill="#b0b0b0" shape-rendering="crispEdges"/>
<rect x="257" y="12" width="3" height="1" fill="#b0b0b0" shape-rendering="crispEdges"/>
<rect x="257" y="14" width="3" height="1" fill="#b0b0b0" shape-rendering="crispEdges"/>
<rect x="257" y="16" width="3" height="1" fill="#b0b0b0" shape-rendering="crispEdges"/>
<rect x="257" y="18" width="3" height="1" fill="#b0b0b0" shape-rendering="crispEdges"/>
<g stroke="#555" stroke-width="1.1" fill="none"><path d="M271.4,5.5V19M269,16.8H282.5"/><path d="M269.9,7.3L271.4,5L272.9,7.3M280.8,15.3L282.8,16.8L280.8,18.3"/></g>
<path d="M278,6.8V14.3M278,7.6H280.2M275.8,13.8H278" stroke="#18a018" stroke-width="1.2" fill="none"/>
<rect x="291" y="1" width="1" height="20" fill="#a0a0a0" shape-rendering="crispEdges"/>
<rect x="292" y="0" width="24.5" height="22" fill="#fafafa"/>
<g stroke="#555" stroke-width="1.1" fill="none"><path d="M299.4,5.5V19M297,16.8H310.5"/><path d="M297.9,7.3L299.4,5L300.9,7.3M308.8,15.3L310.8,16.8L308.8,18.3"/></g>
<line x1="305.5" y1="3.3" x2="305.5" y2="14.7" stroke="#108810" stroke-width="1"/>
<rect x="303.2" y="5.4" width="4.6" height="7.2" fill="#22d822" stroke="#108810" stroke-width="0.9"/>
<g stroke="#555" stroke-width="1.1" fill="none"><path d="M327.4,5.5V19M325,16.8H338.5"/><path d="M325.9,7.3L327.4,5L328.9,7.3M336.8,15.3L338.8,16.8L336.8,18.3"/></g>
<path d="M326.3,13.5C329,10 331,7.5 333,8C335,8.5 336.5,11 337.8,11.8" stroke="#28a028" stroke-width="1.2" fill="none"/>
<rect x="348" y="1" width="1" height="20" fill="#a0a0a0" shape-rendering="crispEdges"/>
<line x1="366.7" y1="13.2" x2="371.7" y2="17.8" stroke="#8a6a10" stroke-width="3.2" stroke-linecap="round"/>
<line x1="366.7" y1="13.2" x2="371.7" y2="17.8" stroke="#f0cc40" stroke-width="1.8" stroke-linecap="round"/>
<circle cx="362.7" cy="9.2" r="5.3" fill="#d4e8fa" stroke="#3a82d0" stroke-width="1.4"/>
<line x1="359.7" y1="9.2" x2="365.7" y2="9.2" stroke="#2a6ac0" stroke-width="1.6"/>
<line x1="362.7" y1="6.2" x2="362.7" y2="12.2" stroke="#2a6ac0" stroke-width="1.6"/>
<line x1="394.8" y1="13.2" x2="399.8" y2="17.8" stroke="#8a6a10" stroke-width="3.2" stroke-linecap="round"/>
<line x1="394.8" y1="13.2" x2="399.8" y2="17.8" stroke="#f0cc40" stroke-width="1.8" stroke-linecap="round"/>
<circle cx="390.8" cy="9.2" r="5.3" fill="#d4e8fa" stroke="#3a82d0" stroke-width="1.4"/>
<line x1="387.8" y1="9.2" x2="393.8" y2="9.2" stroke="#2a6ac0" stroke-width="1.6"/>
<rect x="413" y="3" width="7.8" height="7.6" fill="#3a9a1a"/>
<rect x="414.2" y="6" width="5.4" height="3.2" fill="#fff" opacity="0.92"/>
<rect x="415.2" y="7.6" width="3.4" height="1.6" fill="#6ac83a"/>
<rect x="421.2" y="3" width="7.8" height="7.6" fill="#1a50c8"/>
<rect x="422.4" y="6" width="5.4" height="3.2" fill="#fff" opacity="0.92"/>
<rect x="423.4" y="7.6" width="3.4" height="1.6" fill="#4a88f0"/>
<rect x="413" y="11.2" width="7.8" height="7.6" fill="#1a50c8"/>
<rect x="414.2" y="14.2" width="5.4" height="3.2" fill="#fff" opacity="0.92"/>
<rect x="415.2" y="15.799999999999999" width="3.4" height="1.6" fill="#4a88f0"/>
<rect x="421.2" y="11.2" width="7.8" height="7.6" fill="#3a9a1a"/>
<rect x="422.4" y="14.2" width="5.4" height="3.2" fill="#fff" opacity="0.92"/>
<rect x="423.4" y="15.799999999999999" width="3.4" height="1.6" fill="#6ac83a"/>
<rect x="438" y="1" width="1" height="20" fill="#a0a0a0" shape-rendering="crispEdges"/>
<rect x="443.5" y="0" width="24.5" height="22" fill="#fafafa"/>
<rect x="443" y="1" width="1" height="20" fill="#c8c8c8"/>
<g stroke="#555" stroke-width="1.1" fill="none"><path d="M451.4,5.5V19M449,16.8H462.5"/><path d="M449.9,7.3L451.4,5L452.9,7.3M460.8,15.3L462.8,16.8L460.8,18.3"/></g>
<polygon points="456.5,7.8 460.3,10.6 456.5,13.4" fill="#b8f0b8" stroke="#18a018" stroke-width="1"/>
<rect x="471" y="1" width="1" height="20" fill="#a0a0a0" shape-rendering="crispEdges"/>
<rect x="472.3" y="0" width="24.0" height="22" fill="#fafafa"/>
<g stroke="#555" stroke-width="1.1" fill="none"><path d="M479.4,5.5V19M477,16.8H490.5"/><path d="M477.9,7.3L479.4,5L480.9,7.3M488.8,15.3L490.8,16.8L488.8,18.3"/></g>
<line x1="485.3" y1="5.3" x2="485.3" y2="14.8" stroke="#1a6ac0" stroke-width="1.2"/>
<path d="M490.8,10.8H486.5M488.6,8.8L486.4,10.8L488.6,12.8" stroke="#e04010" stroke-width="1.2" fill="none"/>
<rect x="500" y="1" width="1" height="20" fill="#a0a0a0" shape-rendering="crispEdges"/>
<path d="M510.5,3.8H518.5L521.3,6.6V15.8H510.5Z" fill="#fff" stroke="#888" stroke-width="1"/>
<text x="512.5" y="12.5" font-size="9" font-style="italic" fill="#444">f</text>
<path d="M518,9.6H522V13.3H526V17.3H522V21H518V17.3H514.2V13.3H518Z" fill="#22cc22" stroke="#0a8a0a" stroke-width="0.8"/>
<polygon points="531.8,10.3 537.2,10.3 534.5,13" fill="#000"/>
<circle cx="556" cy="10.6" r="6.9" fill="#f8fbff" stroke="#2a6ad8" stroke-width="2.5"/>
<circle cx="556" cy="10.6" r="8.1" fill="none" stroke="#0a3a98" stroke-width="0.7"/>
<circle cx="556" cy="10.6" r="5.6" fill="none" stroke="#9ab8e8" stroke-width="0.6"/>
<path d="M556,6.4V11H559" stroke="#333" stroke-width="1" fill="none"/>
<polygon points="570.8,10.3 576.2,10.3 573.5,13" fill="#000"/>
<rect x="587.5" y="4.5" width="15.5" height="13" fill="#fff" stroke="#3a78d0" stroke-width="1"/>
<rect x="587.5" y="4.5" width="15.5" height="2.6" fill="#3a78d0"/>
<rect x="588" y="11.6" width="14.5" height="0.8" fill="#3a78d0"/>
<path d="M589.5,10.2L592,9L594,9.8L596.5,8.4L599,9.2L601,8.2" stroke="#c03010" stroke-width="1.1" fill="none"/>
<path d="M589.5,15.6L592,14.2L594,15.4L596.5,13.4L599,15L601,14" stroke="#18a018" stroke-width="1.1" fill="none"/>
<polygon points="609.6999999999999,10.3 615.1,10.3 612.4,13" fill="#000"/>
<rect x="621" y="1" width="1" height="20" fill="#a0a0a0" shape-rendering="crispEdges"/>
<rect x="625" y="2" width="3" height="1" fill="#b0b0b0" shape-rendering="crispEdges"/>
<rect x="625" y="4" width="3" height="1" fill="#b0b0b0" shape-rendering="crispEdges"/>
<rect x="625" y="6" width="3" height="1" fill="#b0b0b0" shape-rendering="crispEdges"/>
<rect x="625" y="8" width="3" height="1" fill="#b0b0b0" shape-rendering="crispEdges"/>
<rect x="625" y="10" width="3" height="1" fill="#b0b0b0" shape-rendering="crispEdges"/>
<rect x="625" y="12" width="3" height="1" fill="#b0b0b0" shape-rendering="crispEdges"/>
<rect x="625" y="14" width="3" height="1" fill="#b0b0b0" shape-rendering="crispEdges"/>
<rect x="625" y="16" width="3" height="1" fill="#b0b0b0" shape-rendering="crispEdges"/>
<rect x="625" y="18" width="3" height="1" fill="#b0b0b0" shape-rendering="crispEdges"/>
<rect x="631" y="1" width="1" height="20" fill="#a0a0a0" shape-rendering="crispEdges"/>
<rect x="632.3" y="0" width="23.700000000000045" height="22" fill="#fafafa"/>
<path d="M638.8,4.4V16.6L641.6,13.8L643.6,18.4L645.6,17.5L643.7,13H647.6Z" fill="#222"/>
<path d="M671.5,4.6V9.4M671.5,13.4V18.2M664,11.4H669.4M673.6,11.4H679" stroke="#333" stroke-width="1.1" fill="none"/>
<rect x="688" y="1" width="1" height="20" fill="#a0a0a0" shape-rendering="crispEdges"/>
<rect x="705" y="5.3" width="1" height="12.4" fill="#444"/>
<rect x="727.7" y="11" width="12.4" height="1" fill="#444"/>
<line x1="755.6" y1="17.6" x2="768" y2="6.2" stroke="#444" stroke-width="1.1"/>
<path d="M782,14.5L793.5,6M784,17.5L795.5,9" stroke="#444" stroke-width="1.1" fill="none"/>
<path d="M785.5,9.5L787.5,16.5M789,7.5L791,14.5M792.5,5L794,11" stroke="#444" stroke-width="0.9" fill="none"/>
<text x="793" y="19.6" font-size="6.5" font-weight="bold" fill="#333">E</text>
<line x1="811" y1="4.5" x2="824.5" y2="4.5" stroke="#444" stroke-width="1" stroke-dasharray="1 1"/>
<line x1="811" y1="7.5" x2="824.5" y2="7.5" stroke="#444" stroke-width="1" stroke-dasharray="1 1"/>
<line x1="811" y1="10.5" x2="824.5" y2="10.5" stroke="#444" stroke-width="1" stroke-dasharray="1 1"/>
<line x1="811" y1="13.5" x2="824.5" y2="13.5" stroke="#444" stroke-width="1" stroke-dasharray="1 1"/>
<text x="821" y="19.6" font-size="6.5" font-weight="bold" fill="#333">F</text>
<text x="841" y="16.3" font-size="13" font-weight="bold" fill="#555" textLength="9" lengthAdjust="spacingAndGlyphs">A</text>
<rect x="868" y="5.5" width="12" height="12" fill="none" stroke="#555" stroke-width="1" stroke-dasharray="1 1"/>
<rect x="867" y="4.2" width="2" height="2" fill="#444"/>
<text x="870" y="15.6" font-size="11" font-weight="bold" fill="#444" textLength="8" lengthAdjust="spacingAndGlyphs">T</text>
<polygon points="899,5.2 902.4,8.4 895.6,8.4" fill="#333"/>
<polygon points="905.5,17.6 902.2,14.4 908.8,14.4" fill="#333"/>
<path d="M898,10.5L901,13.5L905.5,8" stroke="#333" stroke-width="1.4" fill="none"/>
<polygon points="915.6999999999999,10.3 921.1,10.3 918.4,13" fill="#000"/>
<rect x="927" y="1" width="1" height="20" fill="#a0a0a0" shape-rendering="crispEdges"/>
<rect x="931" y="2" width="3" height="1" fill="#b0b0b0" shape-rendering="crispEdges"/>
<rect x="931" y="4" width="3" height="1" fill="#b0b0b0" shape-rendering="crispEdges"/>
<rect x="931" y="6" width="3" height="1" fill="#b0b0b0" shape-rendering="crispEdges"/>
<rect x="931" y="8" width="3" height="1" fill="#b0b0b0" shape-rendering="crispEdges"/>
<rect x="931" y="10" width="3" height="1" fill="#b0b0b0" shape-rendering="crispEdges"/>
<rect x="931" y="12" width="3" height="1" fill="#b0b0b0" shape-rendering="crispEdges"/>
<rect x="931" y="14" width="3" height="1" fill="#b0b0b0" shape-rendering="crispEdges"/>
<rect x="931" y="16" width="3" height="1" fill="#b0b0b0" shape-rendering="crispEdges"/>
<rect x="931" y="18" width="3" height="1" fill="#b0b0b0" shape-rendering="crispEdges"/>
<rect x="1077" y="0" width="25" height="22" fill="#fafafa"/>
<text x="942.2" y="15.2" font-size="9.5" fill="#444" textLength="13.0" lengthAdjust="spacingAndGlyphs">M1</text>
<text x="970.4" y="15.2" font-size="9.5" fill="#444" textLength="12.3" lengthAdjust="spacingAndGlyphs">M5</text>
<text x="996" y="15.2" font-size="9.5" fill="#444" textLength="18.4" lengthAdjust="spacingAndGlyphs">M15</text>
<text x="1024.2" y="15.2" font-size="9.5" fill="#444" textLength="18.3" lengthAdjust="spacingAndGlyphs">M30</text>
<text x="1055.6" y="15.2" font-size="9.5" fill="#444" textLength="11.6" lengthAdjust="spacingAndGlyphs">H1</text>
<text x="1082.3" y="15.2" font-size="9.5" fill="#444" textLength="13.1" lengthAdjust="spacingAndGlyphs">H4</text>
<text x="1111.2" y="15.2" font-size="9.5" fill="#444" textLength="12.3" lengthAdjust="spacingAndGlyphs">D1</text>
<text x="1138.7" y="15.2" font-size="9.5" fill="#444" textLength="14.0" lengthAdjust="spacingAndGlyphs">W1</text>
<text x="1165" y="15.2" font-size="9.5" fill="#444" textLength="15.6" lengthAdjust="spacingAndGlyphs">MN</text>
<rect x="1188" y="1" width="1" height="20" fill="#a0a0a0" shape-rendering="crispEdges"/>
<line x1="1651.5" y1="15.5" x2="1656.5" y2="10.5" stroke="#2a5ac8" stroke-width="2.4" stroke-linecap="round"/>
<circle cx="1659" cy="8" r="3.6" fill="#f8fbff" stroke="#2a5ac8" stroke-width="1.5"/>
<path d="M1676,10.5C1676,7.5 1680,6.2 1683.5,6.2C1688,6.2 1691,8 1691,11C1691,14 1688,15.6 1684,15.6L1680.5,19L1681,15.2C1678,14.6 1676,13 1676,10.5Z" fill="#f4f4f4" stroke="#c0c0c0" stroke-width="1"/>
<circle cx="1688.7" cy="8.6" r="8.2" fill="#e03a1e"/>
<text x="1688.7" y="13.2" font-size="12.5" fill="#fff" text-anchor="middle">1</text>
</g>
</svg></body></html>
